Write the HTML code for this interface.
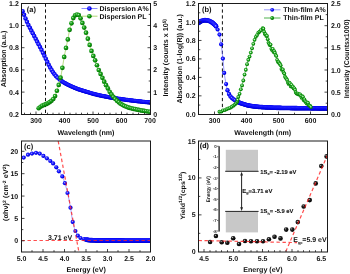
<!DOCTYPE html>
<html><head><meta charset="utf-8"><style>
html,body{margin:0;padding:0;background:#fff;}
svg{display:block;font-family:"Liberation Sans", sans-serif;will-change:transform;text-rendering:geometricPrecision;}
</style></head><body>
<svg width="350" height="274" viewBox="0 0 350 274">
<defs>
<radialGradient id="gb" cx="0.42" cy="0.4" r="0.62"><stop offset="0" stop-color="#b8b8ff"/><stop offset="0.3" stop-color="#3030ff"/><stop offset="0.65" stop-color="#0000f8"/><stop offset="1" stop-color="#0000c0"/></radialGradient>
<radialGradient id="gg2" cx="0.45" cy="0.42" r="0.6"><stop offset="0" stop-color="#e8fce8"/><stop offset="0.28" stop-color="#70c870"/><stop offset="0.56" stop-color="#0c9c0c"/><stop offset="1" stop-color="#006c00"/></radialGradient>
<radialGradient id="gg" cx="0.4" cy="0.38" r="0.62"><stop offset="0" stop-color="#d0f8d0"/><stop offset="0.3" stop-color="#30a830"/><stop offset="0.6" stop-color="#0c980c"/><stop offset="1" stop-color="#006800"/></radialGradient>
<radialGradient id="gk" cx="0.38" cy="0.35" r="0.65"><stop offset="0" stop-color="#d0d0d0"/><stop offset="0.3" stop-color="#202020"/><stop offset="1" stop-color="#000"/></radialGradient>
<clipPath id="ca"><rect x="21" y="3" width="130" height="112"/></clipPath>
<clipPath id="cb"><rect x="198" y="3" width="130" height="112"/></clipPath>
<clipPath id="cc"><rect x="21" y="141" width="130" height="111"/></clipPath>
<clipPath id="cd"><rect x="198" y="141" width="130" height="111"/></clipPath>
</defs>
<rect width="350" height="274" fill="#fff"/>
<line x1="45.5" y1="3.5" x2="45.5" y2="114" stroke="#111" stroke-width="1" stroke-dasharray="3.3 2.6"/>
<g clip-path="url(#ca)">
<circle cx="22.60" cy="11.27" r="2.25" fill="url(#gb)"/><circle cx="24.05" cy="14.86" r="2.25" fill="url(#gb)"/><circle cx="25.50" cy="18.46" r="2.25" fill="url(#gb)"/><circle cx="26.95" cy="21.83" r="2.25" fill="url(#gb)"/><circle cx="28.40" cy="24.88" r="2.25" fill="url(#gb)"/><circle cx="29.85" cy="27.75" r="2.25" fill="url(#gb)"/><circle cx="31.30" cy="30.59" r="2.25" fill="url(#gb)"/><circle cx="32.75" cy="33.37" r="2.25" fill="url(#gb)"/><circle cx="34.20" cy="36.11" r="2.25" fill="url(#gb)"/><circle cx="35.65" cy="38.84" r="2.25" fill="url(#gb)"/><circle cx="37.10" cy="41.57" r="2.25" fill="url(#gb)"/><circle cx="38.55" cy="44.27" r="2.25" fill="url(#gb)"/><circle cx="40.00" cy="47.00" r="2.25" fill="url(#gb)"/><circle cx="41.45" cy="49.79" r="2.25" fill="url(#gb)"/><circle cx="42.90" cy="52.69" r="2.25" fill="url(#gb)"/><circle cx="44.35" cy="55.65" r="2.25" fill="url(#gb)"/><circle cx="45.80" cy="58.63" r="2.25" fill="url(#gb)"/><circle cx="47.25" cy="61.74" r="2.25" fill="url(#gb)"/><circle cx="48.70" cy="64.78" r="2.25" fill="url(#gb)"/><circle cx="50.15" cy="67.48" r="2.25" fill="url(#gb)"/><circle cx="51.60" cy="70.00" r="2.25" fill="url(#gb)"/><circle cx="53.05" cy="72.32" r="2.25" fill="url(#gb)"/><circle cx="54.50" cy="74.37" r="2.25" fill="url(#gb)"/><circle cx="55.95" cy="76.09" r="2.25" fill="url(#gb)"/><circle cx="57.40" cy="77.57" r="2.25" fill="url(#gb)"/>
<circle cx="59.50" cy="79.42" r="2.15" fill="url(#gb)"/><circle cx="60.30" cy="80.06" r="2.15" fill="url(#gb)"/><circle cx="61.10" cy="80.67" r="2.15" fill="url(#gb)"/><circle cx="61.90" cy="81.25" r="2.15" fill="url(#gb)"/><circle cx="62.70" cy="81.79" r="2.15" fill="url(#gb)"/><circle cx="63.50" cy="82.30" r="2.15" fill="url(#gb)"/><circle cx="64.30" cy="82.78" r="2.15" fill="url(#gb)"/><circle cx="65.10" cy="83.25" r="2.15" fill="url(#gb)"/><circle cx="65.90" cy="83.69" r="2.15" fill="url(#gb)"/><circle cx="66.70" cy="84.12" r="2.15" fill="url(#gb)"/><circle cx="67.50" cy="84.54" r="2.15" fill="url(#gb)"/><circle cx="68.30" cy="84.94" r="2.15" fill="url(#gb)"/><circle cx="69.10" cy="85.33" r="2.15" fill="url(#gb)"/><circle cx="69.90" cy="85.71" r="2.15" fill="url(#gb)"/><circle cx="70.70" cy="86.08" r="2.15" fill="url(#gb)"/><circle cx="71.50" cy="86.45" r="2.15" fill="url(#gb)"/><circle cx="72.30" cy="86.80" r="2.15" fill="url(#gb)"/><circle cx="73.10" cy="87.15" r="2.15" fill="url(#gb)"/><circle cx="73.90" cy="87.50" r="2.15" fill="url(#gb)"/><circle cx="74.70" cy="87.83" r="2.15" fill="url(#gb)"/><circle cx="75.50" cy="88.16" r="2.15" fill="url(#gb)"/><circle cx="76.30" cy="88.48" r="2.15" fill="url(#gb)"/><circle cx="77.10" cy="88.79" r="2.15" fill="url(#gb)"/><circle cx="77.90" cy="89.09" r="2.15" fill="url(#gb)"/><circle cx="78.70" cy="89.38" r="2.15" fill="url(#gb)"/><circle cx="79.50" cy="89.67" r="2.15" fill="url(#gb)"/><circle cx="80.30" cy="89.94" r="2.15" fill="url(#gb)"/><circle cx="81.10" cy="90.20" r="2.15" fill="url(#gb)"/><circle cx="81.90" cy="90.45" r="2.15" fill="url(#gb)"/><circle cx="82.70" cy="90.70" r="2.15" fill="url(#gb)"/><circle cx="83.50" cy="90.94" r="2.15" fill="url(#gb)"/><circle cx="84.30" cy="91.18" r="2.15" fill="url(#gb)"/><circle cx="85.10" cy="91.41" r="2.15" fill="url(#gb)"/><circle cx="85.90" cy="91.64" r="2.15" fill="url(#gb)"/><circle cx="86.70" cy="91.88" r="2.15" fill="url(#gb)"/><circle cx="87.50" cy="92.11" r="2.15" fill="url(#gb)"/><circle cx="88.30" cy="92.35" r="2.15" fill="url(#gb)"/><circle cx="89.10" cy="92.59" r="2.15" fill="url(#gb)"/><circle cx="89.90" cy="92.84" r="2.15" fill="url(#gb)"/><circle cx="90.70" cy="93.08" r="2.15" fill="url(#gb)"/><circle cx="91.50" cy="93.33" r="2.15" fill="url(#gb)"/><circle cx="92.30" cy="93.56" r="2.15" fill="url(#gb)"/><circle cx="93.10" cy="93.79" r="2.15" fill="url(#gb)"/><circle cx="93.90" cy="94.02" r="2.15" fill="url(#gb)"/><circle cx="94.70" cy="94.22" r="2.15" fill="url(#gb)"/><circle cx="95.50" cy="94.42" r="2.15" fill="url(#gb)"/><circle cx="96.30" cy="94.62" r="2.15" fill="url(#gb)"/><circle cx="97.10" cy="94.81" r="2.15" fill="url(#gb)"/><circle cx="97.90" cy="94.99" r="2.15" fill="url(#gb)"/><circle cx="98.70" cy="95.17" r="2.15" fill="url(#gb)"/><circle cx="99.50" cy="95.35" r="2.15" fill="url(#gb)"/><circle cx="100.30" cy="95.53" r="2.15" fill="url(#gb)"/><circle cx="101.10" cy="95.70" r="2.15" fill="url(#gb)"/><circle cx="101.90" cy="95.87" r="2.15" fill="url(#gb)"/><circle cx="102.70" cy="96.03" r="2.15" fill="url(#gb)"/><circle cx="103.50" cy="96.19" r="2.15" fill="url(#gb)"/><circle cx="104.30" cy="96.35" r="2.15" fill="url(#gb)"/><circle cx="105.10" cy="96.51" r="2.15" fill="url(#gb)"/><circle cx="105.90" cy="96.66" r="2.15" fill="url(#gb)"/><circle cx="106.70" cy="96.81" r="2.15" fill="url(#gb)"/><circle cx="107.50" cy="96.96" r="2.15" fill="url(#gb)"/><circle cx="108.30" cy="97.10" r="2.15" fill="url(#gb)"/><circle cx="109.10" cy="97.24" r="2.15" fill="url(#gb)"/><circle cx="109.90" cy="97.38" r="2.15" fill="url(#gb)"/><circle cx="110.70" cy="97.52" r="2.15" fill="url(#gb)"/><circle cx="111.50" cy="97.65" r="2.15" fill="url(#gb)"/><circle cx="112.30" cy="97.79" r="2.15" fill="url(#gb)"/><circle cx="113.10" cy="97.92" r="2.15" fill="url(#gb)"/><circle cx="113.90" cy="98.05" r="2.15" fill="url(#gb)"/><circle cx="114.70" cy="98.17" r="2.15" fill="url(#gb)"/><circle cx="115.50" cy="98.30" r="2.15" fill="url(#gb)"/><circle cx="116.30" cy="98.42" r="2.15" fill="url(#gb)"/><circle cx="117.10" cy="98.54" r="2.15" fill="url(#gb)"/><circle cx="117.90" cy="98.66" r="2.15" fill="url(#gb)"/><circle cx="118.70" cy="98.78" r="2.15" fill="url(#gb)"/><circle cx="119.50" cy="98.90" r="2.15" fill="url(#gb)"/><circle cx="120.30" cy="99.01" r="2.15" fill="url(#gb)"/><circle cx="121.10" cy="99.12" r="2.15" fill="url(#gb)"/><circle cx="121.90" cy="99.24" r="2.15" fill="url(#gb)"/><circle cx="122.70" cy="99.35" r="2.15" fill="url(#gb)"/><circle cx="123.50" cy="99.46" r="2.15" fill="url(#gb)"/><circle cx="124.30" cy="99.56" r="2.15" fill="url(#gb)"/><circle cx="125.10" cy="99.67" r="2.15" fill="url(#gb)"/><circle cx="125.90" cy="99.78" r="2.15" fill="url(#gb)"/><circle cx="126.70" cy="99.88" r="2.15" fill="url(#gb)"/><circle cx="127.50" cy="99.98" r="2.15" fill="url(#gb)"/><circle cx="128.30" cy="100.09" r="2.15" fill="url(#gb)"/><circle cx="129.10" cy="100.19" r="2.15" fill="url(#gb)"/><circle cx="129.90" cy="100.29" r="2.15" fill="url(#gb)"/><circle cx="130.70" cy="100.39" r="2.15" fill="url(#gb)"/><circle cx="131.50" cy="100.49" r="2.15" fill="url(#gb)"/><circle cx="132.30" cy="100.58" r="2.15" fill="url(#gb)"/><circle cx="133.10" cy="100.68" r="2.15" fill="url(#gb)"/><circle cx="133.90" cy="100.78" r="2.15" fill="url(#gb)"/><circle cx="134.70" cy="100.87" r="2.15" fill="url(#gb)"/><circle cx="135.50" cy="100.97" r="2.15" fill="url(#gb)"/><circle cx="136.30" cy="101.06" r="2.15" fill="url(#gb)"/><circle cx="137.10" cy="101.15" r="2.15" fill="url(#gb)"/><circle cx="137.90" cy="101.25" r="2.15" fill="url(#gb)"/><circle cx="138.70" cy="101.34" r="2.15" fill="url(#gb)"/><circle cx="139.50" cy="101.43" r="2.15" fill="url(#gb)"/><circle cx="140.30" cy="101.52" r="2.15" fill="url(#gb)"/><circle cx="141.10" cy="101.60" r="2.15" fill="url(#gb)"/><circle cx="141.90" cy="101.69" r="2.15" fill="url(#gb)"/><circle cx="142.70" cy="101.78" r="2.15" fill="url(#gb)"/><circle cx="143.50" cy="101.86" r="2.15" fill="url(#gb)"/><circle cx="144.30" cy="101.95" r="2.15" fill="url(#gb)"/><circle cx="145.10" cy="102.03" r="2.15" fill="url(#gb)"/><circle cx="145.90" cy="102.11" r="2.15" fill="url(#gb)"/><circle cx="146.70" cy="102.19" r="2.15" fill="url(#gb)"/><circle cx="147.50" cy="102.27" r="2.15" fill="url(#gb)"/><circle cx="148.30" cy="102.35" r="2.15" fill="url(#gb)"/><circle cx="149.10" cy="102.42" r="2.15" fill="url(#gb)"/><circle cx="149.90" cy="102.50" r="2.15" fill="url(#gb)"/><circle cx="150.70" cy="102.57" r="2.15" fill="url(#gb)"/>
<path d="M38.50,108.40 L39.00,107.97 L39.50,107.56 L40.00,107.16 L40.50,106.79 L41.00,106.44 L41.50,106.11 L42.00,105.82 L42.50,105.55 L43.00,105.32 L43.50,105.11 L44.00,104.93 L44.50,104.75 L45.00,104.58 L45.50,104.40 L46.00,104.21 L46.50,103.99 L47.00,103.75 L47.50,103.49 L48.00,103.20 L48.50,102.90 L49.00,102.58 L49.50,102.24 L50.00,101.89 L50.50,101.53 L51.00,101.15 L51.50,100.75 L52.00,100.32 L52.50,99.84 L53.00,99.30 L53.50,98.68 L54.00,97.97 L54.50,97.14 L55.00,96.20 L55.50,95.06 L56.00,93.62 L56.50,92.03 L57.00,90.41 L57.50,88.86 L58.00,87.29 L58.50,85.67 L59.00,83.93 L59.50,82.06 L60.00,80.04 L60.50,77.86 L61.00,75.50 L61.50,72.86 L62.00,69.96 L62.50,66.98 L63.00,64.02 L63.50,60.97 L64.00,57.98 L64.50,55.24 L65.00,52.69 L65.50,50.27 L66.00,47.88 L66.50,45.53 L67.00,43.26 L67.50,40.95 L68.00,38.48 L68.50,35.66 L69.00,32.79 L69.50,30.37 L70.00,28.40 L70.50,26.63 L71.00,24.94 L71.50,23.20 L72.00,21.46 L72.50,19.92 L73.00,18.68 L73.50,17.58 L74.00,16.65 L74.50,15.99 L75.00,15.46 L75.50,15.04 L76.00,14.80 L76.50,14.68 L77.00,14.59 L77.50,14.52 L78.00,14.50 L78.50,14.75 L79.00,15.39 L79.50,16.26 L80.00,17.23 L80.50,18.22 L81.00,19.47 L81.50,20.80 L82.00,22.01 L82.50,23.17 L83.00,24.35 L83.50,25.63 L84.00,27.02 L84.50,28.47 L85.00,29.91 L85.50,31.31 L86.00,32.67 L86.50,34.07 L87.00,35.60 L87.50,37.38 L88.00,39.30 L88.50,41.09 L89.00,42.75 L89.50,44.38 L90.00,46.00 L90.50,47.68 L91.00,49.37 L91.50,50.99 L92.00,52.47 L92.50,53.84 L93.00,55.13 L93.50,56.39 L94.00,57.65 L94.50,58.85 L95.00,60.05 L95.50,61.30 L96.00,62.63 L96.50,64.01 L97.00,65.40 L97.50,66.73 L98.00,68.05 L98.50,69.34 L99.00,70.57 L99.50,71.69 L100.00,72.74 L100.50,73.76 L101.00,74.80 L101.50,75.88 L102.00,76.97 L102.50,78.06 L103.00,79.12 L103.50,80.16 L104.00,81.19 L104.50,82.20 L105.00,83.20 L105.50,84.18 L106.00,85.14 L106.50,86.06 L107.00,86.93 L107.50,87.78 L108.00,88.64 L108.50,89.56 L109.00,90.55 L109.50,91.53 L110.00,92.40 L110.50,93.15 L111.00,93.82 L111.50,94.47 L112.00,95.10 L112.50,95.74 L113.00,96.36 L113.50,96.96 L114.00,97.52 L114.50,98.08 L115.00,98.63 L115.50,99.16 L116.00,99.68 L116.50,100.19 L117.00,100.68 L117.50,101.15 L118.00,101.60 L118.50,102.04 L119.00,102.47 L119.50,102.88 L120.00,103.28 L120.50,103.65 L121.00,104.00 L121.50,104.33 L122.00,104.62 L122.50,104.91 L123.00,105.18 L123.50,105.43 L124.00,105.67 L124.50,105.91 L125.00,106.14 L125.50,106.36 L126.00,106.58 L126.50,106.79 L127.00,106.99 L127.50,107.19 L128.00,107.37 L128.50,107.54 L129.00,107.69 L129.50,107.84 L130.00,107.97 L130.50,108.10 L131.00,108.23 L131.50,108.35 L132.00,108.46 L132.50,108.58 L133.00,108.70 L133.50,108.82 L134.00,108.94 L134.50,109.05 L135.00,109.17 L135.50,109.28 L136.00,109.39 L136.50,109.50 L137.00,109.60 L137.50,109.70 L138.00,109.80 L138.50,109.90 L139.00,110.00 L139.50,110.10 L140.00,110.19 L140.50,110.29 L141.00,110.38 L141.50,110.47 L142.00,110.56 L142.50,110.65 L143.00,110.73 L143.50,110.82 L144.00,110.90 L144.50,110.98 L145.00,111.06 L145.50,111.14 L146.00,111.21 L146.50,111.29 L147.00,111.36 L147.50,111.44 L148.00,111.51 L148.50,111.58 L149.00,111.64 L149.50,111.71 L150.00,111.78 L150.50,111.84 L151.00,111.90" fill="none" stroke="#9acd50" stroke-width="0.7"/>
<circle cx="38.70" cy="108.23" r="2.35" fill="url(#gg)"/><circle cx="40.52" cy="106.77" r="2.35" fill="url(#gg)"/><circle cx="42.34" cy="105.63" r="2.35" fill="url(#gg)"/><circle cx="44.16" cy="104.87" r="2.35" fill="url(#gg)"/><circle cx="45.98" cy="104.22" r="2.35" fill="url(#gg)"/><circle cx="47.80" cy="103.32" r="2.35" fill="url(#gg)"/><circle cx="49.62" cy="102.16" r="2.35" fill="url(#gg)"/><circle cx="51.44" cy="100.80" r="2.35" fill="url(#gg)"/><circle cx="53.26" cy="98.99" r="2.35" fill="url(#gg)"/><circle cx="55.08" cy="96.04" r="2.35" fill="url(#gg)"/><circle cx="56.90" cy="90.73" r="2.35" fill="url(#gg)"/><circle cx="58.72" cy="84.92" r="2.35" fill="url(#gg)"/><circle cx="60.54" cy="77.67" r="2.35" fill="url(#gg)"/><circle cx="62.36" cy="67.81" r="2.35" fill="url(#gg)"/><circle cx="64.18" cy="56.96" r="2.35" fill="url(#gg)"/><circle cx="66.00" cy="47.88" r="2.35" fill="url(#gg)"/><circle cx="67.82" cy="39.40" r="2.35" fill="url(#gg)"/><circle cx="69.64" cy="29.79" r="2.35" fill="url(#gg)"/><circle cx="71.46" cy="23.34" r="2.35" fill="url(#gg)"/><circle cx="73.28" cy="18.05" r="2.35" fill="url(#gg)"/><circle cx="75.10" cy="15.36" r="2.35" fill="url(#gg)"/><circle cx="76.92" cy="14.60" r="2.35" fill="url(#gg)"/><circle cx="78.74" cy="15.01" r="2.35" fill="url(#gg)"/><circle cx="80.56" cy="18.36" r="2.35" fill="url(#gg)"/><circle cx="82.38" cy="22.89" r="2.35" fill="url(#gg)"/><circle cx="84.20" cy="27.59" r="2.35" fill="url(#gg)"/><circle cx="86.02" cy="32.72" r="2.35" fill="url(#gg)"/><circle cx="87.84" cy="38.69" r="2.35" fill="url(#gg)"/><circle cx="89.66" cy="44.89" r="2.35" fill="url(#gg)"/><circle cx="91.48" cy="50.93" r="2.35" fill="url(#gg)"/><circle cx="93.30" cy="55.89" r="2.35" fill="url(#gg)"/><circle cx="95.12" cy="60.35" r="2.35" fill="url(#gg)"/><circle cx="96.94" cy="65.23" r="2.35" fill="url(#gg)"/><circle cx="98.76" cy="69.99" r="2.35" fill="url(#gg)"/><circle cx="100.58" cy="73.92" r="2.35" fill="url(#gg)"/><circle cx="102.40" cy="77.84" r="2.35" fill="url(#gg)"/><circle cx="104.22" cy="81.64" r="2.35" fill="url(#gg)"/><circle cx="106.04" cy="85.22" r="2.35" fill="url(#gg)"/><circle cx="107.86" cy="88.40" r="2.35" fill="url(#gg)"/><circle cx="109.68" cy="91.86" r="2.35" fill="url(#gg)"/><circle cx="111.50" cy="94.47" r="2.35" fill="url(#gg)"/><circle cx="113.32" cy="96.74" r="2.35" fill="url(#gg)"/><circle cx="115.14" cy="98.78" r="2.35" fill="url(#gg)"/><circle cx="116.96" cy="100.64" r="2.35" fill="url(#gg)"/><circle cx="118.78" cy="102.28" r="2.35" fill="url(#gg)"/><circle cx="120.60" cy="103.73" r="2.35" fill="url(#gg)"/><circle cx="122.42" cy="104.86" r="2.35" fill="url(#gg)"/><circle cx="124.24" cy="105.79" r="2.35" fill="url(#gg)"/><circle cx="126.06" cy="106.60" r="2.35" fill="url(#gg)"/><circle cx="127.88" cy="107.32" r="2.35" fill="url(#gg)"/><circle cx="129.70" cy="107.89" r="2.35" fill="url(#gg)"/><circle cx="131.52" cy="108.35" r="2.35" fill="url(#gg)"/><circle cx="133.34" cy="108.78" r="2.35" fill="url(#gg)"/><circle cx="135.16" cy="109.20" r="2.35" fill="url(#gg)"/><circle cx="136.98" cy="109.60" r="2.35" fill="url(#gg)"/><circle cx="138.80" cy="109.96" r="2.35" fill="url(#gg)"/><circle cx="140.62" cy="110.31" r="2.35" fill="url(#gg)"/><circle cx="142.44" cy="110.64" r="2.35" fill="url(#gg)"/><circle cx="144.26" cy="110.94" r="2.35" fill="url(#gg)"/><circle cx="146.08" cy="111.23" r="2.35" fill="url(#gg)"/><circle cx="147.90" cy="111.49" r="2.35" fill="url(#gg)"/><circle cx="149.72" cy="111.74" r="2.35" fill="url(#gg)"/>
</g>
<rect x="21.5" y="3.5" width="129.0" height="111.0" fill="none" stroke="#1a1a1a" stroke-width="1"/>
<line x1="24.5" y1="114.5" x2="24.5" y2="112.7" stroke="#1a1a1a" stroke-width="0.8"/>
<line x1="30.5" y1="114.5" x2="30.5" y2="112.7" stroke="#1a1a1a" stroke-width="0.8"/>
<line x1="36.0" y1="114.5" x2="36.0" y2="111.5" stroke="#1a1a1a" stroke-width="0.8"/>
<line x1="41.5" y1="114.5" x2="41.5" y2="112.7" stroke="#1a1a1a" stroke-width="0.8"/>
<line x1="47.5" y1="114.5" x2="47.5" y2="112.7" stroke="#1a1a1a" stroke-width="0.8"/>
<line x1="53.0" y1="114.5" x2="53.0" y2="112.7" stroke="#1a1a1a" stroke-width="0.8"/>
<line x1="59.0" y1="114.5" x2="59.0" y2="112.7" stroke="#1a1a1a" stroke-width="0.8"/>
<line x1="64.5" y1="114.5" x2="64.5" y2="111.5" stroke="#1a1a1a" stroke-width="0.8"/>
<line x1="70.0" y1="114.5" x2="70.0" y2="112.7" stroke="#1a1a1a" stroke-width="0.8"/>
<line x1="76.0" y1="114.5" x2="76.0" y2="112.7" stroke="#1a1a1a" stroke-width="0.8"/>
<line x1="81.5" y1="114.5" x2="81.5" y2="112.7" stroke="#1a1a1a" stroke-width="0.8"/>
<line x1="87.5" y1="114.5" x2="87.5" y2="112.7" stroke="#1a1a1a" stroke-width="0.8"/>
<line x1="93.0" y1="114.5" x2="93.0" y2="111.5" stroke="#1a1a1a" stroke-width="0.8"/>
<line x1="98.5" y1="114.5" x2="98.5" y2="112.7" stroke="#1a1a1a" stroke-width="0.8"/>
<line x1="104.5" y1="114.5" x2="104.5" y2="112.7" stroke="#1a1a1a" stroke-width="0.8"/>
<line x1="110.0" y1="114.5" x2="110.0" y2="112.7" stroke="#1a1a1a" stroke-width="0.8"/>
<line x1="116.0" y1="114.5" x2="116.0" y2="112.7" stroke="#1a1a1a" stroke-width="0.8"/>
<line x1="121.5" y1="114.5" x2="121.5" y2="111.5" stroke="#1a1a1a" stroke-width="0.8"/>
<line x1="127.0" y1="114.5" x2="127.0" y2="112.7" stroke="#1a1a1a" stroke-width="0.8"/>
<line x1="133.0" y1="114.5" x2="133.0" y2="112.7" stroke="#1a1a1a" stroke-width="0.8"/>
<line x1="138.5" y1="114.5" x2="138.5" y2="112.7" stroke="#1a1a1a" stroke-width="0.8"/>
<line x1="144.5" y1="114.5" x2="144.5" y2="112.7" stroke="#1a1a1a" stroke-width="0.8"/>
<text x="36.0" y="123.1" font-size="7" text-anchor="middle" font-weight="bold" fill="#111" >300</text>
<text x="64.5" y="123.1" font-size="7" text-anchor="middle" font-weight="bold" fill="#111" >400</text>
<text x="93.0" y="123.1" font-size="7" text-anchor="middle" font-weight="bold" fill="#111" >500</text>
<text x="121.49999999999999" y="123.1" font-size="7" text-anchor="middle" font-weight="bold" fill="#111" >600</text>
<text x="150.0" y="123.1" font-size="7" text-anchor="middle" font-weight="bold" fill="#111" >700</text>
<line x1="21.5" y1="103.19999999999999" x2="23.3" y2="103.19999999999999" stroke="#1a1a1a" stroke-width="0.8"/>
<line x1="21.5" y1="92.1" x2="24.5" y2="92.1" stroke="#1a1a1a" stroke-width="0.8"/>
<line x1="21.5" y1="81.0" x2="23.3" y2="81.0" stroke="#1a1a1a" stroke-width="0.8"/>
<line x1="21.5" y1="69.89999999999999" x2="24.5" y2="69.89999999999999" stroke="#1a1a1a" stroke-width="0.8"/>
<line x1="21.5" y1="58.800000000000004" x2="23.3" y2="58.800000000000004" stroke="#1a1a1a" stroke-width="0.8"/>
<line x1="21.5" y1="47.69999999999999" x2="24.5" y2="47.69999999999999" stroke="#1a1a1a" stroke-width="0.8"/>
<line x1="21.5" y1="36.59999999999998" x2="23.3" y2="36.59999999999998" stroke="#1a1a1a" stroke-width="0.8"/>
<line x1="21.5" y1="25.499999999999986" x2="24.5" y2="25.499999999999986" stroke="#1a1a1a" stroke-width="0.8"/>
<line x1="21.5" y1="14.399999999999977" x2="23.3" y2="14.399999999999977" stroke="#1a1a1a" stroke-width="0.8"/>
<text x="18.8" y="116.85" font-size="7" text-anchor="end" font-weight="bold" fill="#111" >0.2</text>
<text x="18.8" y="94.64999999999999" font-size="7" text-anchor="end" font-weight="bold" fill="#111" >0.4</text>
<text x="18.8" y="72.45" font-size="7" text-anchor="end" font-weight="bold" fill="#111" >0.6</text>
<text x="18.8" y="50.249999999999986" font-size="7" text-anchor="end" font-weight="bold" fill="#111" >0.8</text>
<text x="18.8" y="28.049999999999986" font-size="7" text-anchor="end" font-weight="bold" fill="#111" >1.0</text>
<text x="18.8" y="5.849999999999997" font-size="7" text-anchor="end" font-weight="bold" fill="#111" >1.2</text>
<line x1="150.5" y1="103.2" x2="148.7" y2="103.2" stroke="#1a1a1a" stroke-width="0.8"/>
<line x1="150.5" y1="92.1" x2="147.5" y2="92.1" stroke="#1a1a1a" stroke-width="0.8"/>
<line x1="150.5" y1="81.0" x2="148.7" y2="81.0" stroke="#1a1a1a" stroke-width="0.8"/>
<line x1="150.5" y1="69.9" x2="147.5" y2="69.9" stroke="#1a1a1a" stroke-width="0.8"/>
<line x1="150.5" y1="58.8" x2="148.7" y2="58.8" stroke="#1a1a1a" stroke-width="0.8"/>
<line x1="150.5" y1="47.7" x2="147.5" y2="47.7" stroke="#1a1a1a" stroke-width="0.8"/>
<line x1="150.5" y1="36.599999999999994" x2="148.7" y2="36.599999999999994" stroke="#1a1a1a" stroke-width="0.8"/>
<line x1="150.5" y1="25.5" x2="147.5" y2="25.5" stroke="#1a1a1a" stroke-width="0.8"/>
<line x1="150.5" y1="14.400000000000006" x2="148.7" y2="14.400000000000006" stroke="#1a1a1a" stroke-width="0.8"/>
<text x="153.3" y="116.85" font-size="7" text-anchor="start" font-weight="bold" fill="#111" >0</text>
<text x="153.3" y="94.64999999999999" font-size="7" text-anchor="start" font-weight="bold" fill="#111" >1</text>
<text x="153.3" y="72.45" font-size="7" text-anchor="start" font-weight="bold" fill="#111" >2</text>
<text x="153.3" y="50.25" font-size="7" text-anchor="start" font-weight="bold" fill="#111" >3</text>
<text x="153.3" y="28.05" font-size="7" text-anchor="start" font-weight="bold" fill="#111" >4</text>
<text x="153.3" y="5.849999999999997" font-size="7" text-anchor="start" font-weight="bold" fill="#111" >5</text>
<text x="26.8" y="11.9" font-size="7.5" text-anchor="start" font-weight="bold" fill="#111" >(a)</text>
<line x1="81.5" y1="8.5" x2="97.5" y2="8.5" stroke="#6f6fff" stroke-width="0.8"/>
<circle cx="89.4" cy="8.5" r="2.3" fill="url(#gb)"/>
<line x1="81.5" y1="16.2" x2="97.5" y2="16.2" stroke="#9acd50" stroke-width="0.8"/>
<circle cx="89.4" cy="16.2" r="2.3" fill="url(#gg)"/>
<text x="99.5" y="10.7" font-size="7" text-anchor="start" font-weight="bold" fill="#111" >Dispersion A%</text>
<text x="99.5" y="18.5" font-size="7" text-anchor="start" font-weight="bold" fill="#111" >Dispersion PL</text>
<text x="86" y="134.9" font-size="7.1" text-anchor="middle" font-weight="bold" fill="#111" >Wavelength (nm)</text>
<text transform="translate(6.3,58.9) rotate(-90)" font-size="7.2" text-anchor="middle" font-weight="bold" fill="#111" textLength="56.5" lengthAdjust="spacingAndGlyphs">Absorption (a.u.)</text>
<text transform="translate(168.3,57.8) rotate(-90)" font-size="7.1" text-anchor="middle" font-weight="bold" fill="#111" textLength="77.5" lengthAdjust="spacingAndGlyphs">Intensity (counts x 10<tspan font-size="4.8" dy="-2.6">5)</tspan></text>
<line x1="222.4" y1="3.5" x2="222.4" y2="114" stroke="#111" stroke-width="1" stroke-dasharray="3.3 2.6"/>
<g clip-path="url(#cb)">
<path d="M198.50,23.30 L199.00,22.80 L199.50,22.33 L200.00,21.90 L200.50,21.55 L201.00,21.30 L201.50,21.11 L202.00,20.92 L202.50,20.75 L203.00,20.60 L203.50,20.48 L204.00,20.38 L204.50,20.32 L205.00,20.30 L205.50,20.31 L206.00,20.34 L206.50,20.39 L207.00,20.45 L207.50,20.52 L208.00,20.60 L208.50,20.71 L209.00,20.88 L209.50,21.08 L210.00,21.33 L210.50,21.59 L211.00,21.87 L211.50,22.16 L212.00,22.47 L212.50,22.83 L213.00,23.22 L213.50,23.65 L214.00,24.10 L214.50,24.59 L215.00,25.11 L215.50,25.68 L216.00,26.31 L216.50,27.00 L217.00,27.76 L217.50,28.67 L218.00,29.80 L218.50,31.26 L219.00,33.08 L219.50,35.18 L220.00,37.67 L220.50,40.53 L221.00,43.65 L221.50,47.04 L222.00,50.83 L222.50,55.00 L223.00,59.58 L223.50,65.38 L224.00,71.11 L224.50,75.11 L225.00,78.30 L225.50,81.06 L226.00,83.60 L226.50,86.09 L227.00,88.41 L227.50,90.30 L228.00,91.76 L228.50,92.98 L229.00,94.00 L229.50,94.89 L230.00,95.70 L230.50,96.43 L231.00,97.06 L231.50,97.60 L232.00,98.06 L232.50,98.46 L233.00,98.83 L233.50,99.18 L234.00,99.53 L234.50,99.89 L235.00,100.26 L235.50,100.62 L236.00,100.96 L236.50,101.28 L237.00,101.55 L237.50,101.81 L238.00,102.05 L238.50,102.29 L239.00,102.51 L239.50,102.72 L240.00,102.93 L240.50,103.13 L241.00,103.32 L241.50,103.50 L242.00,103.67 L242.50,103.84 L243.00,104.00 L243.50,104.16 L244.00,104.31 L244.50,104.46 L245.00,104.61 L245.50,104.76 L246.00,104.90 L246.50,105.03 L247.00,105.16 L247.50,105.28 L248.00,105.40 L248.50,105.51 L249.00,105.62 L249.50,105.71 L250.00,105.80 L250.50,105.88 L251.00,105.96 L251.50,106.04 L252.00,106.12 L252.50,106.19 L253.00,106.26 L253.50,106.33 L254.00,106.40 L254.50,106.46 L255.00,106.52 L255.50,106.58 L256.00,106.64 L256.50,106.69 L257.00,106.74 L257.50,106.79 L258.00,106.84 L258.50,106.88 L259.00,106.93 L259.50,106.96 L260.00,107.00 L260.50,107.03 L261.00,107.07 L261.50,107.10 L262.00,107.13 L262.50,107.17 L263.00,107.20 L263.50,107.23 L264.00,107.26 L264.50,107.29 L265.00,107.32 L265.50,107.35 L266.00,107.37 L266.50,107.40 L267.00,107.43 L267.50,107.45 L268.00,107.48 L268.50,107.50 L269.00,107.53 L269.50,107.55 L270.00,107.58 L270.50,107.60 L271.00,107.62 L271.50,107.64 L272.00,107.66 L272.50,107.68 L273.00,107.70 L273.50,107.72 L274.00,107.74 L274.50,107.76 L275.00,107.77 L275.50,107.79 L276.00,107.80 L276.50,107.82 L277.00,107.83 L277.50,107.84 L278.00,107.86 L278.50,107.87 L279.00,107.88 L279.50,107.89 L280.00,107.90 L280.50,107.91 L281.00,107.92 L281.50,107.93 L282.00,107.94 L282.50,107.95 L283.00,107.95 L283.50,107.96 L284.00,107.97 L284.50,107.98 L285.00,107.99 L285.50,108.00 L286.00,108.01 L286.50,108.01 L287.00,108.02 L287.50,108.03 L288.00,108.04 L288.50,108.05 L289.00,108.06 L289.50,108.06 L290.00,108.07 L290.50,108.08 L291.00,108.09 L291.50,108.10 L292.00,108.10 L292.50,108.11 L293.00,108.12 L293.50,108.13 L294.00,108.13 L294.50,108.14 L295.00,108.15 L295.50,108.15 L296.00,108.16 L296.50,108.17 L297.00,108.17 L297.50,108.18 L298.00,108.19 L298.50,108.19 L299.00,108.20 L299.50,108.21 L300.00,108.21 L300.50,108.22 L301.00,108.23 L301.50,108.23 L302.00,108.24 L302.50,108.24 L303.00,108.25 L303.50,108.26 L304.00,108.26 L304.50,108.27 L305.00,108.27 L305.50,108.28 L306.00,108.28 L306.50,108.29 L307.00,108.29 L307.50,108.30 L308.00,108.30 L308.50,108.31 L309.00,108.31 L309.50,108.32 L310.00,108.32 L310.50,108.32 L311.00,108.33 L311.50,108.33 L312.00,108.34 L312.50,108.34 L313.00,108.34 L313.50,108.35 L314.00,108.35 L314.50,108.35 L315.00,108.36 L315.50,108.36 L316.00,108.36 L316.50,108.37 L317.00,108.37 L317.50,108.37 L318.00,108.37 L318.50,108.38 L319.00,108.38 L319.50,108.38 L320.00,108.38 L320.50,108.39 L321.00,108.39 L321.50,108.39 L322.00,108.39 L322.50,108.39 L323.00,108.39 L323.50,108.39 L324.00,108.40 L324.50,108.40 L325.00,108.40 L325.50,108.40 L326.00,108.40 L326.50,108.40 L327.00,108.40 L327.50,108.40 L328.00,108.40" fill="none" stroke="#6f6fff" stroke-width="0.7"/>
<circle cx="199.00" cy="22.80" r="2.45" fill="url(#gb)"/><circle cx="200.00" cy="21.90" r="2.45" fill="url(#gb)"/><circle cx="201.00" cy="21.30" r="2.45" fill="url(#gb)"/><circle cx="202.00" cy="20.92" r="2.45" fill="url(#gb)"/><circle cx="203.00" cy="20.60" r="2.45" fill="url(#gb)"/><circle cx="204.00" cy="20.38" r="2.45" fill="url(#gb)"/><circle cx="205.00" cy="20.30" r="2.45" fill="url(#gb)"/><circle cx="206.00" cy="20.34" r="2.45" fill="url(#gb)"/><circle cx="207.00" cy="20.45" r="2.45" fill="url(#gb)"/><circle cx="208.00" cy="20.60" r="2.45" fill="url(#gb)"/><circle cx="209.00" cy="20.88" r="2.45" fill="url(#gb)"/><circle cx="210.00" cy="21.33" r="2.45" fill="url(#gb)"/><circle cx="211.00" cy="21.87" r="2.45" fill="url(#gb)"/><circle cx="212.00" cy="22.47" r="2.45" fill="url(#gb)"/><circle cx="213.00" cy="23.22" r="2.45" fill="url(#gb)"/><circle cx="214.00" cy="24.10" r="2.45" fill="url(#gb)"/><circle cx="215.00" cy="25.11" r="2.45" fill="url(#gb)"/><circle cx="216.00" cy="26.31" r="2.45" fill="url(#gb)"/>
<circle cx="217.6" cy="29.5" r="2.1" fill="url(#gb)"/>
<circle cx="219.5" cy="34.6" r="2.1" fill="url(#gb)"/>
<circle cx="221.1" cy="44.3" r="2.1" fill="url(#gb)"/>
<circle cx="222.9" cy="58.6" r="2.1" fill="url(#gb)"/>
<circle cx="224.2" cy="72.9" r="2.1" fill="url(#gb)"/>
<circle cx="226.1" cy="84.1" r="2.1" fill="url(#gb)"/>
<circle cx="227.50" cy="90.30" r="2.2" fill="url(#gb)"/><circle cx="229.00" cy="94.00" r="2.2" fill="url(#gb)"/><circle cx="230.50" cy="96.43" r="2.2" fill="url(#gb)"/><circle cx="232.00" cy="98.06" r="2.2" fill="url(#gb)"/><circle cx="233.50" cy="99.18" r="2.2" fill="url(#gb)"/><circle cx="235.00" cy="100.26" r="2.2" fill="url(#gb)"/>
<circle cx="236.80" cy="101.45" r="2.3" fill="url(#gb)"/><circle cx="237.60" cy="101.86" r="2.3" fill="url(#gb)"/><circle cx="238.40" cy="102.24" r="2.3" fill="url(#gb)"/><circle cx="239.20" cy="102.60" r="2.3" fill="url(#gb)"/><circle cx="240.00" cy="102.93" r="2.3" fill="url(#gb)"/><circle cx="240.80" cy="103.24" r="2.3" fill="url(#gb)"/><circle cx="241.60" cy="103.53" r="2.3" fill="url(#gb)"/><circle cx="242.40" cy="103.81" r="2.3" fill="url(#gb)"/><circle cx="243.20" cy="104.06" r="2.3" fill="url(#gb)"/><circle cx="244.00" cy="104.31" r="2.3" fill="url(#gb)"/><circle cx="244.80" cy="104.55" r="2.3" fill="url(#gb)"/><circle cx="245.60" cy="104.79" r="2.3" fill="url(#gb)"/><circle cx="246.40" cy="105.01" r="2.3" fill="url(#gb)"/><circle cx="247.20" cy="105.21" r="2.3" fill="url(#gb)"/><circle cx="248.00" cy="105.40" r="2.3" fill="url(#gb)"/><circle cx="248.80" cy="105.58" r="2.3" fill="url(#gb)"/><circle cx="249.60" cy="105.73" r="2.3" fill="url(#gb)"/><circle cx="250.40" cy="105.87" r="2.3" fill="url(#gb)"/><circle cx="251.20" cy="105.99" r="2.3" fill="url(#gb)"/><circle cx="252.00" cy="106.12" r="2.3" fill="url(#gb)"/><circle cx="252.80" cy="106.23" r="2.3" fill="url(#gb)"/><circle cx="253.60" cy="106.34" r="2.3" fill="url(#gb)"/><circle cx="254.40" cy="106.45" r="2.3" fill="url(#gb)"/><circle cx="255.20" cy="106.55" r="2.3" fill="url(#gb)"/><circle cx="256.00" cy="106.64" r="2.3" fill="url(#gb)"/><circle cx="256.80" cy="106.72" r="2.3" fill="url(#gb)"/><circle cx="257.60" cy="106.80" r="2.3" fill="url(#gb)"/><circle cx="258.40" cy="106.88" r="2.3" fill="url(#gb)"/><circle cx="259.20" cy="106.94" r="2.3" fill="url(#gb)"/><circle cx="260.00" cy="107.00" r="2.3" fill="url(#gb)"/><circle cx="260.80" cy="107.05" r="2.3" fill="url(#gb)"/><circle cx="261.60" cy="107.11" r="2.3" fill="url(#gb)"/><circle cx="262.40" cy="107.16" r="2.3" fill="url(#gb)"/><circle cx="263.20" cy="107.21" r="2.3" fill="url(#gb)"/><circle cx="264.00" cy="107.26" r="2.3" fill="url(#gb)"/><circle cx="264.80" cy="107.31" r="2.3" fill="url(#gb)"/><circle cx="265.60" cy="107.35" r="2.3" fill="url(#gb)"/><circle cx="266.40" cy="107.40" r="2.3" fill="url(#gb)"/><circle cx="267.20" cy="107.44" r="2.3" fill="url(#gb)"/><circle cx="268.00" cy="107.48" r="2.3" fill="url(#gb)"/><circle cx="268.80" cy="107.52" r="2.3" fill="url(#gb)"/><circle cx="269.60" cy="107.56" r="2.3" fill="url(#gb)"/><circle cx="270.40" cy="107.59" r="2.3" fill="url(#gb)"/><circle cx="271.20" cy="107.63" r="2.3" fill="url(#gb)"/><circle cx="272.00" cy="107.66" r="2.3" fill="url(#gb)"/><circle cx="272.80" cy="107.69" r="2.3" fill="url(#gb)"/><circle cx="273.60" cy="107.72" r="2.3" fill="url(#gb)"/><circle cx="274.40" cy="107.75" r="2.3" fill="url(#gb)"/><circle cx="275.20" cy="107.78" r="2.3" fill="url(#gb)"/><circle cx="276.00" cy="107.80" r="2.3" fill="url(#gb)"/><circle cx="276.80" cy="107.83" r="2.3" fill="url(#gb)"/><circle cx="277.60" cy="107.85" r="2.3" fill="url(#gb)"/><circle cx="278.40" cy="107.87" r="2.3" fill="url(#gb)"/><circle cx="279.20" cy="107.88" r="2.3" fill="url(#gb)"/><circle cx="280.00" cy="107.90" r="2.3" fill="url(#gb)"/><circle cx="280.80" cy="107.91" r="2.3" fill="url(#gb)"/><circle cx="281.60" cy="107.93" r="2.3" fill="url(#gb)"/><circle cx="282.40" cy="107.94" r="2.3" fill="url(#gb)"/><circle cx="283.20" cy="107.96" r="2.3" fill="url(#gb)"/><circle cx="284.00" cy="107.97" r="2.3" fill="url(#gb)"/><circle cx="284.80" cy="107.99" r="2.3" fill="url(#gb)"/><circle cx="285.60" cy="108.00" r="2.3" fill="url(#gb)"/><circle cx="286.40" cy="108.01" r="2.3" fill="url(#gb)"/><circle cx="287.20" cy="108.03" r="2.3" fill="url(#gb)"/><circle cx="288.00" cy="108.04" r="2.3" fill="url(#gb)"/><circle cx="288.80" cy="108.05" r="2.3" fill="url(#gb)"/><circle cx="289.60" cy="108.07" r="2.3" fill="url(#gb)"/><circle cx="290.40" cy="108.08" r="2.3" fill="url(#gb)"/><circle cx="291.20" cy="108.09" r="2.3" fill="url(#gb)"/><circle cx="292.00" cy="108.10" r="2.3" fill="url(#gb)"/><circle cx="292.80" cy="108.12" r="2.3" fill="url(#gb)"/><circle cx="293.60" cy="108.13" r="2.3" fill="url(#gb)"/><circle cx="294.40" cy="108.14" r="2.3" fill="url(#gb)"/><circle cx="295.20" cy="108.15" r="2.3" fill="url(#gb)"/><circle cx="296.00" cy="108.16" r="2.3" fill="url(#gb)"/><circle cx="296.80" cy="108.17" r="2.3" fill="url(#gb)"/><circle cx="297.60" cy="108.18" r="2.3" fill="url(#gb)"/><circle cx="298.40" cy="108.19" r="2.3" fill="url(#gb)"/><circle cx="299.20" cy="108.20" r="2.3" fill="url(#gb)"/><circle cx="300.00" cy="108.21" r="2.3" fill="url(#gb)"/><circle cx="300.80" cy="108.22" r="2.3" fill="url(#gb)"/><circle cx="301.60" cy="108.23" r="2.3" fill="url(#gb)"/><circle cx="302.40" cy="108.24" r="2.3" fill="url(#gb)"/><circle cx="303.20" cy="108.25" r="2.3" fill="url(#gb)"/><circle cx="304.00" cy="108.26" r="2.3" fill="url(#gb)"/><circle cx="304.80" cy="108.27" r="2.3" fill="url(#gb)"/><circle cx="305.60" cy="108.28" r="2.3" fill="url(#gb)"/><circle cx="306.40" cy="108.29" r="2.3" fill="url(#gb)"/><circle cx="307.20" cy="108.29" r="2.3" fill="url(#gb)"/><circle cx="308.00" cy="108.30" r="2.3" fill="url(#gb)"/><circle cx="308.80" cy="108.31" r="2.3" fill="url(#gb)"/><circle cx="309.60" cy="108.32" r="2.3" fill="url(#gb)"/><circle cx="310.40" cy="108.32" r="2.3" fill="url(#gb)"/><circle cx="311.20" cy="108.33" r="2.3" fill="url(#gb)"/><circle cx="312.00" cy="108.34" r="2.3" fill="url(#gb)"/><circle cx="312.80" cy="108.34" r="2.3" fill="url(#gb)"/><circle cx="313.60" cy="108.35" r="2.3" fill="url(#gb)"/><circle cx="314.40" cy="108.35" r="2.3" fill="url(#gb)"/><circle cx="315.20" cy="108.36" r="2.3" fill="url(#gb)"/><circle cx="316.00" cy="108.36" r="2.3" fill="url(#gb)"/><circle cx="316.80" cy="108.37" r="2.3" fill="url(#gb)"/><circle cx="317.60" cy="108.37" r="2.3" fill="url(#gb)"/><circle cx="318.40" cy="108.38" r="2.3" fill="url(#gb)"/><circle cx="319.20" cy="108.38" r="2.3" fill="url(#gb)"/><circle cx="320.00" cy="108.38" r="2.3" fill="url(#gb)"/><circle cx="320.80" cy="108.39" r="2.3" fill="url(#gb)"/><circle cx="321.60" cy="108.39" r="2.3" fill="url(#gb)"/><circle cx="322.40" cy="108.39" r="2.3" fill="url(#gb)"/><circle cx="323.20" cy="108.39" r="2.3" fill="url(#gb)"/><circle cx="324.00" cy="108.40" r="2.3" fill="url(#gb)"/><circle cx="324.80" cy="108.40" r="2.3" fill="url(#gb)"/><circle cx="325.60" cy="108.40" r="2.3" fill="url(#gb)"/><circle cx="326.40" cy="108.40" r="2.3" fill="url(#gb)"/><circle cx="327.20" cy="108.40" r="2.3" fill="url(#gb)"/><circle cx="328.00" cy="108.40" r="2.3" fill="url(#gb)"/>
<path d="M219.50,111.92 L220.00,111.77 L220.50,111.60 L221.00,111.41 L221.50,111.20 L222.00,110.98 L222.50,110.76 L223.00,110.54 L223.50,110.32 L224.00,110.12 L224.50,109.92 L225.00,109.73 L225.50,109.54 L226.00,109.35 L226.50,109.16 L227.00,108.96 L227.50,108.76 L228.00,108.54 L228.50,108.32 L229.00,108.10 L229.50,107.87 L230.00,107.64 L230.50,107.39 L231.00,107.14 L231.50,106.87 L232.00,106.60 L232.50,106.30 L233.00,106.01 L233.50,105.72 L234.00,105.43 L234.50,105.10 L235.00,104.73 L235.50,104.29 L236.00,103.76 L236.50,103.09 L237.00,101.90 L237.50,100.30 L238.00,98.53 L238.50,96.82 L239.00,95.26 L239.50,93.68 L240.00,92.08 L240.50,90.43 L241.00,88.76 L241.50,87.07 L242.00,85.30 L242.50,83.41 L243.00,81.28 L243.50,79.01 L244.00,76.77 L244.50,74.69 L245.00,72.75 L245.50,70.87 L246.00,68.98 L246.50,66.99 L247.00,64.89 L247.50,62.84 L248.00,61.00 L248.50,59.45 L249.00,58.07 L249.50,56.69 L250.00,55.18 L250.50,53.47 L251.00,51.67 L251.50,49.87 L252.00,48.17 L252.50,46.54 L253.00,44.93 L253.50,43.37 L254.00,41.87 L254.50,40.47 L255.00,39.13 L255.50,37.82 L256.00,36.60 L256.50,35.53 L257.00,34.69 L257.50,34.00 L258.00,33.40 L258.50,32.85 L259.00,32.31 L259.50,31.75 L260.00,31.07 L260.50,30.22 L261.00,29.38 L261.50,28.78 L262.00,28.61 L262.50,28.95 L263.00,29.66 L263.50,30.58 L264.00,31.57 L264.50,32.47 L265.00,33.37 L265.50,34.32 L266.00,35.33 L266.50,36.37 L267.00,37.46 L267.50,38.62 L268.00,39.81 L268.50,41.00 L269.00,42.19 L269.50,43.40 L270.00,44.59 L270.50,45.70 L271.00,46.73 L271.50,47.70 L272.00,48.64 L272.50,49.57 L273.00,50.51 L273.50,51.49 L274.00,52.45 L274.50,53.42 L275.00,54.40 L275.50,55.40 L276.00,56.43 L276.50,57.50 L277.00,58.66 L277.50,59.89 L278.00,61.11 L278.50,62.24 L279.00,63.32 L279.50,64.36 L280.00,65.38 L280.50,66.38 L281.00,67.37 L281.50,68.35 L282.00,69.32 L282.50,70.31 L283.00,71.30 L283.50,72.31 L284.00,73.35 L284.50,74.39 L285.00,75.43 L285.50,76.46 L286.00,77.47 L286.50,78.46 L287.00,79.40 L287.50,80.29 L288.00,81.13 L288.50,81.94 L289.00,82.72 L289.50,83.49 L290.00,84.23 L290.50,84.95 L291.00,85.66 L291.50,86.34 L292.00,87.00 L292.50,87.64 L293.00,88.26 L293.50,88.86 L294.00,89.45 L294.50,90.00 L295.00,90.53 L295.50,91.04 L296.00,91.54 L296.50,92.02 L297.00,92.50 L297.50,92.97 L298.00,93.45 L298.50,93.92 L299.00,94.41 L299.50,94.90 L300.00,95.41 L300.50,95.92 L301.00,96.43 L301.50,96.95 L302.00,97.47 L302.50,97.99 L303.00,98.50 L303.50,99.02 L304.00,99.52 L304.50,100.02 L305.00,100.52 L305.50,101.00 L306.00,101.48 L306.50,101.95 L307.00,102.41 L307.50,102.88 L308.00,103.33 L308.50,103.79 L309.00,104.23 L309.50,104.68 L310.00,105.12 L310.50,105.55 L311.00,105.98 L311.50,106.40" fill="none" stroke="#22a022" stroke-width="0.6"/>
<circle cx="219.44" cy="111.73" r="1.9" fill="url(#gg2)"/><circle cx="221.39" cy="111.53" r="1.9" fill="url(#gg2)"/><circle cx="222.95" cy="110.34" r="1.9" fill="url(#gg2)"/><circle cx="224.90" cy="110.08" r="1.9" fill="url(#gg2)"/><circle cx="226.56" cy="109.13" r="1.9" fill="url(#gg2)"/><circle cx="228.35" cy="108.47" r="1.9" fill="url(#gg2)"/><circle cx="230.13" cy="107.78" r="1.9" fill="url(#gg2)"/><circle cx="231.74" cy="106.75" r="1.9" fill="url(#gg2)"/><circle cx="233.31" cy="105.67" r="1.9" fill="url(#gg2)"/><circle cx="234.83" cy="104.58" r="1.9" fill="url(#gg2)"/><circle cx="236.06" cy="103.24" r="1.9" fill="url(#gg2)"/><circle cx="237.23" cy="101.73" r="1.9" fill="url(#gg2)"/><circle cx="237.59" cy="99.85" r="1.9" fill="url(#gg2)"/>
<circle cx="238.30" cy="96.97" r="1.9" fill="url(#gg2)"/><circle cx="239.55" cy="93.86" r="1.9" fill="url(#gg2)"/><circle cx="240.80" cy="89.36" r="1.9" fill="url(#gg2)"/><circle cx="242.05" cy="85.39" r="1.9" fill="url(#gg2)"/><circle cx="243.30" cy="80.50" r="1.9" fill="url(#gg2)"/><circle cx="244.55" cy="74.54" r="1.9" fill="url(#gg2)"/><circle cx="245.80" cy="69.74" r="1.9" fill="url(#gg2)"/><circle cx="247.05" cy="64.17" r="1.9" fill="url(#gg2)"/><circle cx="248.30" cy="59.76" r="1.9" fill="url(#gg2)"/><circle cx="249.55" cy="56.55" r="1.9" fill="url(#gg2)"/><circle cx="250.80" cy="52.61" r="1.9" fill="url(#gg2)"/><circle cx="252.05" cy="48.37" r="1.9" fill="url(#gg2)"/><circle cx="253.30" cy="43.84" r="1.9" fill="url(#gg2)"/><circle cx="254.55" cy="39.81" r="1.9" fill="url(#gg2)"/><circle cx="255.80" cy="36.82" r="1.9" fill="url(#gg2)"/><circle cx="257.05" cy="35.10" r="1.9" fill="url(#gg2)"/><circle cx="258.30" cy="32.72" r="1.9" fill="url(#gg2)"/><circle cx="259.55" cy="31.63" r="1.9" fill="url(#gg2)"/><circle cx="260.80" cy="30.22" r="1.9" fill="url(#gg2)"/>
<circle cx="262.70" cy="28.05" r="1.85" fill="url(#gg2)"/><circle cx="263.42" cy="28.70" r="1.85" fill="url(#gg2)"/><circle cx="264.14" cy="31.70" r="1.85" fill="url(#gg2)"/><circle cx="264.86" cy="33.92" r="1.85" fill="url(#gg2)"/><circle cx="265.58" cy="34.19" r="1.85" fill="url(#gg2)"/><circle cx="266.30" cy="35.90" r="1.85" fill="url(#gg2)"/><circle cx="267.02" cy="35.75" r="1.85" fill="url(#gg2)"/><circle cx="267.74" cy="39.14" r="1.85" fill="url(#gg2)"/><circle cx="268.46" cy="42.50" r="1.85" fill="url(#gg2)"/><circle cx="269.18" cy="43.89" r="1.85" fill="url(#gg2)"/><circle cx="269.90" cy="45.18" r="1.85" fill="url(#gg2)"/><circle cx="270.62" cy="44.54" r="1.85" fill="url(#gg2)"/><circle cx="271.34" cy="48.81" r="1.85" fill="url(#gg2)"/><circle cx="272.06" cy="50.03" r="1.85" fill="url(#gg2)"/><circle cx="272.78" cy="48.89" r="1.85" fill="url(#gg2)"/><circle cx="273.50" cy="51.96" r="1.85" fill="url(#gg2)"/><circle cx="274.22" cy="51.15" r="1.85" fill="url(#gg2)"/><circle cx="274.94" cy="52.90" r="1.85" fill="url(#gg2)"/><circle cx="275.66" cy="55.06" r="1.85" fill="url(#gg2)"/><circle cx="276.38" cy="56.01" r="1.85" fill="url(#gg2)"/><circle cx="277.10" cy="59.84" r="1.85" fill="url(#gg2)"/><circle cx="277.82" cy="61.83" r="1.85" fill="url(#gg2)"/><circle cx="278.54" cy="61.77" r="1.85" fill="url(#gg2)"/><circle cx="279.26" cy="63.21" r="1.85" fill="url(#gg2)"/><circle cx="279.98" cy="63.94" r="1.85" fill="url(#gg2)"/><circle cx="280.70" cy="65.28" r="1.85" fill="url(#gg2)"/><circle cx="281.42" cy="68.96" r="1.85" fill="url(#gg2)"/><circle cx="282.14" cy="69.96" r="1.85" fill="url(#gg2)"/><circle cx="282.86" cy="69.42" r="1.85" fill="url(#gg2)"/><circle cx="283.58" cy="72.40" r="1.85" fill="url(#gg2)"/><circle cx="284.30" cy="73.62" r="1.85" fill="url(#gg2)"/><circle cx="285.02" cy="76.72" r="1.85" fill="url(#gg2)"/><circle cx="285.74" cy="77.74" r="1.85" fill="url(#gg2)"/><circle cx="286.46" cy="78.75" r="1.85" fill="url(#gg2)"/><circle cx="287.18" cy="79.92" r="1.85" fill="url(#gg2)"/><circle cx="287.90" cy="82.58" r="1.85" fill="url(#gg2)"/><circle cx="288.62" cy="83.88" r="1.85" fill="url(#gg2)"/><circle cx="289.34" cy="82.66" r="1.85" fill="url(#gg2)"/><circle cx="290.06" cy="83.38" r="1.85" fill="url(#gg2)"/><circle cx="290.78" cy="86.42" r="1.85" fill="url(#gg2)"/><circle cx="291.50" cy="84.77" r="1.85" fill="url(#gg2)"/><circle cx="292.22" cy="86.80" r="1.85" fill="url(#gg2)"/><circle cx="292.94" cy="86.64" r="1.85" fill="url(#gg2)"/><circle cx="293.66" cy="88.40" r="1.85" fill="url(#gg2)"/><circle cx="294.38" cy="88.32" r="1.85" fill="url(#gg2)"/><circle cx="295.10" cy="89.88" r="1.85" fill="url(#gg2)"/><circle cx="295.82" cy="92.41" r="1.85" fill="url(#gg2)"/><circle cx="296.54" cy="93.52" r="1.85" fill="url(#gg2)"/><circle cx="297.26" cy="93.80" r="1.85" fill="url(#gg2)"/><circle cx="297.98" cy="93.65" r="1.85" fill="url(#gg2)"/><circle cx="298.70" cy="94.53" r="1.85" fill="url(#gg2)"/><circle cx="299.42" cy="94.32" r="1.85" fill="url(#gg2)"/><circle cx="300.14" cy="94.36" r="1.85" fill="url(#gg2)"/><circle cx="300.86" cy="96.06" r="1.85" fill="url(#gg2)"/><circle cx="301.58" cy="97.87" r="1.85" fill="url(#gg2)"/><circle cx="302.30" cy="96.21" r="1.85" fill="url(#gg2)"/><circle cx="303.02" cy="96.80" r="1.85" fill="url(#gg2)"/><circle cx="303.74" cy="100.23" r="1.85" fill="url(#gg2)"/><circle cx="304.46" cy="99.26" r="1.85" fill="url(#gg2)"/><circle cx="305.18" cy="101.42" r="1.85" fill="url(#gg2)"/><circle cx="305.90" cy="102.23" r="1.85" fill="url(#gg2)"/><circle cx="306.62" cy="103.62" r="1.85" fill="url(#gg2)"/><circle cx="307.34" cy="102.37" r="1.85" fill="url(#gg2)"/><circle cx="308.06" cy="102.88" r="1.85" fill="url(#gg2)"/><circle cx="308.78" cy="105.14" r="1.85" fill="url(#gg2)"/><circle cx="309.50" cy="105.63" r="1.85" fill="url(#gg2)"/><circle cx="310.22" cy="105.86" r="1.85" fill="url(#gg2)"/><circle cx="310.94" cy="107.05" r="1.85" fill="url(#gg2)"/>
</g>
<rect x="198.5" y="3.5" width="129.0" height="111.0" fill="none" stroke="#1a1a1a" stroke-width="1"/>
<line x1="214.5" y1="114.5" x2="214.5" y2="111.5" stroke="#1a1a1a" stroke-width="0.8"/>
<line x1="230.5" y1="114.5" x2="230.5" y2="112.7" stroke="#1a1a1a" stroke-width="0.8"/>
<line x1="246.5" y1="114.5" x2="246.5" y2="111.5" stroke="#1a1a1a" stroke-width="0.8"/>
<line x1="262.5" y1="114.5" x2="262.5" y2="112.7" stroke="#1a1a1a" stroke-width="0.8"/>
<line x1="278.5" y1="114.5" x2="278.5" y2="111.5" stroke="#1a1a1a" stroke-width="0.8"/>
<line x1="294.5" y1="114.5" x2="294.5" y2="112.7" stroke="#1a1a1a" stroke-width="0.8"/>
<line x1="310.5" y1="114.5" x2="310.5" y2="111.5" stroke="#1a1a1a" stroke-width="0.8"/>
<text x="214.5" y="123.1" font-size="7" text-anchor="middle" font-weight="bold" fill="#111" >300</text>
<text x="246.5" y="123.1" font-size="7" text-anchor="middle" font-weight="bold" fill="#111" >400</text>
<text x="278.5" y="123.1" font-size="7" text-anchor="middle" font-weight="bold" fill="#111" >500</text>
<text x="310.5" y="123.1" font-size="7" text-anchor="middle" font-weight="bold" fill="#111" >600</text>
<line x1="198.5" y1="105.07" x2="200.3" y2="105.07" stroke="#1a1a1a" stroke-width="0.8"/>
<line x1="198.5" y1="95.84" x2="201.5" y2="95.84" stroke="#1a1a1a" stroke-width="0.8"/>
<line x1="198.5" y1="86.60999999999999" x2="200.3" y2="86.60999999999999" stroke="#1a1a1a" stroke-width="0.8"/>
<line x1="198.5" y1="77.38" x2="201.5" y2="77.38" stroke="#1a1a1a" stroke-width="0.8"/>
<line x1="198.5" y1="68.15" x2="200.3" y2="68.15" stroke="#1a1a1a" stroke-width="0.8"/>
<line x1="198.5" y1="58.91999999999999" x2="201.5" y2="58.91999999999999" stroke="#1a1a1a" stroke-width="0.8"/>
<line x1="198.5" y1="49.69" x2="200.3" y2="49.69" stroke="#1a1a1a" stroke-width="0.8"/>
<line x1="198.5" y1="40.459999999999994" x2="201.5" y2="40.459999999999994" stroke="#1a1a1a" stroke-width="0.8"/>
<line x1="198.5" y1="31.230000000000004" x2="200.3" y2="31.230000000000004" stroke="#1a1a1a" stroke-width="0.8"/>
<line x1="198.5" y1="22.0" x2="201.5" y2="22.0" stroke="#1a1a1a" stroke-width="0.8"/>
<line x1="198.5" y1="12.769999999999996" x2="200.3" y2="12.769999999999996" stroke="#1a1a1a" stroke-width="0.8"/>
<text x="195.6" y="116.85" font-size="7" text-anchor="end" font-weight="bold" fill="#111" >0.0</text>
<text x="195.6" y="98.39" font-size="7" text-anchor="end" font-weight="bold" fill="#111" >0.2</text>
<text x="195.6" y="79.92999999999999" font-size="7" text-anchor="end" font-weight="bold" fill="#111" >0.4</text>
<text x="195.6" y="61.469999999999985" font-size="7" text-anchor="end" font-weight="bold" fill="#111" >0.6</text>
<text x="195.6" y="43.00999999999999" font-size="7" text-anchor="end" font-weight="bold" fill="#111" >0.8</text>
<text x="195.6" y="24.55" font-size="7" text-anchor="end" font-weight="bold" fill="#111" >1.0</text>
<text x="195.6" y="6.089999999999978" font-size="7" text-anchor="end" font-weight="bold" fill="#111" >1.2</text>
<line x1="327.5" y1="103.225" x2="325.7" y2="103.225" stroke="#1a1a1a" stroke-width="0.8"/>
<line x1="327.5" y1="92.15" x2="324.5" y2="92.15" stroke="#1a1a1a" stroke-width="0.8"/>
<line x1="327.5" y1="81.075" x2="325.7" y2="81.075" stroke="#1a1a1a" stroke-width="0.8"/>
<line x1="327.5" y1="70.0" x2="324.5" y2="70.0" stroke="#1a1a1a" stroke-width="0.8"/>
<line x1="327.5" y1="58.925" x2="325.7" y2="58.925" stroke="#1a1a1a" stroke-width="0.8"/>
<line x1="327.5" y1="47.85000000000001" x2="324.5" y2="47.85000000000001" stroke="#1a1a1a" stroke-width="0.8"/>
<line x1="327.5" y1="36.775000000000006" x2="325.7" y2="36.775000000000006" stroke="#1a1a1a" stroke-width="0.8"/>
<line x1="327.5" y1="25.700000000000003" x2="324.5" y2="25.700000000000003" stroke="#1a1a1a" stroke-width="0.8"/>
<line x1="327.5" y1="14.625" x2="325.7" y2="14.625" stroke="#1a1a1a" stroke-width="0.8"/>
<text x="331" y="116.85" font-size="7" text-anchor="start" font-weight="bold" fill="#111" >0.0</text>
<text x="331" y="94.7" font-size="7" text-anchor="start" font-weight="bold" fill="#111" >0.5</text>
<text x="331" y="72.55" font-size="7" text-anchor="start" font-weight="bold" fill="#111" >1.0</text>
<text x="331" y="50.400000000000006" font-size="7" text-anchor="start" font-weight="bold" fill="#111" >1.5</text>
<text x="331" y="28.250000000000004" font-size="7" text-anchor="start" font-weight="bold" fill="#111" >2.0</text>
<text x="331" y="6.099999999999997" font-size="7" text-anchor="start" font-weight="bold" fill="#111" >2.5</text>
<text x="202" y="12.2" font-size="7.5" text-anchor="start" font-weight="bold" fill="#111" >(b)</text>
<line x1="264" y1="9.8" x2="280.5" y2="9.8" stroke="#7f7fff" stroke-width="0.8"/>
<circle cx="272.2" cy="9.8" r="1.9" fill="url(#gb)"/>
<line x1="264" y1="18" x2="280.5" y2="18" stroke="#22a022" stroke-width="0.8"/>
<circle cx="272.2" cy="18" r="1.9" fill="url(#gg)"/>
<text x="283.3" y="12" font-size="7" text-anchor="start" font-weight="bold" fill="#111" >Thin-film A%</text>
<text x="283.3" y="20.3" font-size="7" text-anchor="start" font-weight="bold" fill="#111" >Thin-film PL</text>
<text x="262.8" y="135.3" font-size="7.1" text-anchor="middle" font-weight="bold" fill="#111" >Wavelength (nm)</text>
<text transform="translate(182.3,58.8) rotate(-90)" font-size="7.1" text-anchor="middle" font-weight="bold" fill="#111" textLength="89.5" lengthAdjust="spacingAndGlyphs">Absorption (1-log(R)) (a.u.)</text>
<text transform="translate(349.3,58.8) rotate(-90)" font-size="7" text-anchor="middle" font-weight="bold" fill="#111" >Intensity (Countsx1000)</text>
<g clip-path="url(#cc)">
<path d="M21.50,159.50 L22.00,159.04 L22.50,158.59 L23.00,158.16 L23.50,157.76 L24.00,157.37 L24.50,156.98 L25.00,156.59 L25.50,156.20 L26.00,155.84 L26.50,155.50 L27.00,155.19 L27.50,154.92 L28.00,154.70 L28.50,154.52 L29.00,154.35 L29.50,154.21 L30.00,154.07 L30.50,153.95 L31.00,153.83 L31.50,153.71 L32.00,153.60 L32.50,153.48 L33.00,153.34 L33.50,153.21 L34.00,153.08 L34.50,152.97 L35.00,152.88 L35.50,152.82 L36.00,152.80 L36.50,152.82 L37.00,152.88 L37.50,152.97 L38.00,153.09 L38.50,153.23 L39.00,153.38 L39.50,153.54 L40.00,153.71 L40.50,153.95 L41.00,154.23 L41.50,154.56 L42.00,154.91 L42.50,155.27 L43.00,155.63 L43.50,155.97 L44.00,156.29 L44.50,156.63 L45.00,156.96 L45.50,157.30 L46.00,157.65 L46.50,158.01 L47.00,158.37 L47.50,158.75 L48.00,159.14 L48.50,159.53 L49.00,159.93 L49.50,160.34 L50.00,160.75 L50.50,161.16 L51.00,161.57 L51.50,161.97 L52.00,162.39 L52.50,162.83 L53.00,163.30 L53.50,163.81 L54.00,164.37 L54.50,164.96 L55.00,165.58 L55.50,166.23 L56.00,166.89 L56.50,167.58 L57.00,168.31 L57.50,169.09 L58.00,169.89 L58.50,170.68 L59.00,171.45 L59.50,172.17 L60.00,172.86 L60.50,173.54 L61.00,174.24 L61.50,175.00 L62.00,175.84 L62.50,176.80 L63.00,177.91 L63.50,179.16 L64.00,180.52 L64.50,181.98 L65.00,183.51 L65.50,185.17 L66.00,186.97 L66.50,188.89 L67.00,190.91 L67.50,193.00 L68.00,195.17 L68.50,197.45 L69.00,199.84 L69.50,202.34 L70.00,204.96 L70.50,207.70 L71.00,210.85 L71.50,214.39 L72.00,217.90 L72.50,220.92 L73.00,223.20 L73.50,225.19 L74.00,226.97 L74.50,228.56 L75.00,229.98 L75.50,231.24 L76.00,232.40 L76.50,233.46 L77.00,234.40 L77.50,235.20 L78.00,235.84 L78.50,236.40 L79.00,236.91 L79.50,237.35 L80.00,237.71 L80.50,238.00 L81.00,238.23 L81.50,238.43 L82.00,238.61 L82.50,238.76 L83.00,238.91 L83.50,239.03 L84.00,239.15 L84.50,239.27 L85.00,239.38 L85.50,239.50 L86.00,239.61 L86.50,239.71 L87.00,239.81 L87.50,239.90 L88.00,239.98 L88.50,240.06 L89.00,240.12 L89.50,240.17 L90.00,240.20 L90.50,240.23 L91.00,240.25 L91.50,240.28 L92.00,240.30 L92.50,240.32 L93.00,240.34 L93.50,240.36 L94.00,240.38 L94.50,240.40 L95.00,240.41 L95.50,240.43 L96.00,240.44 L96.50,240.45 L97.00,240.46 L97.50,240.47 L98.00,240.48 L98.50,240.49 L99.00,240.49 L99.50,240.50 L100.00,240.50 L100.50,240.50 L101.00,240.50 L101.50,240.51 L102.00,240.51 L102.50,240.51 L103.00,240.51 L103.50,240.52 L104.00,240.52 L104.50,240.52 L105.00,240.52 L105.50,240.52 L106.00,240.53 L106.50,240.53 L107.00,240.53 L107.50,240.53 L108.00,240.53 L108.50,240.53 L109.00,240.54 L109.50,240.54 L110.00,240.54 L110.50,240.54 L111.00,240.54 L111.50,240.54 L112.00,240.55 L112.50,240.55 L113.00,240.55 L113.50,240.55 L114.00,240.55 L114.50,240.55 L115.00,240.56 L115.50,240.56 L116.00,240.56 L116.50,240.56 L117.00,240.56 L117.50,240.56 L118.00,240.56 L118.50,240.56 L119.00,240.57 L119.50,240.57 L120.00,240.57 L120.50,240.57 L121.00,240.57 L121.50,240.57 L122.00,240.57 L122.50,240.57 L123.00,240.57 L123.50,240.58 L124.00,240.58 L124.50,240.58 L125.00,240.58 L125.50,240.58 L126.00,240.58 L126.50,240.58 L127.00,240.58 L127.50,240.58 L128.00,240.58 L128.50,240.58 L129.00,240.58 L129.50,240.59 L130.00,240.59 L130.50,240.59 L131.00,240.59 L131.50,240.59 L132.00,240.59 L132.50,240.59 L133.00,240.59 L133.50,240.59 L134.00,240.59 L134.50,240.59 L135.00,240.59 L135.50,240.59 L136.00,240.59 L136.50,240.59 L137.00,240.59 L137.50,240.59 L138.00,240.60 L138.50,240.60 L139.00,240.60 L139.50,240.60 L140.00,240.60 L140.50,240.60 L141.00,240.60 L141.50,240.60 L142.00,240.60 L142.50,240.60 L143.00,240.60 L143.50,240.60 L144.00,240.60 L144.50,240.60 L145.00,240.60 L145.50,240.60 L146.00,240.60 L146.50,240.60 L147.00,240.60 L147.50,240.60 L148.00,240.60 L148.50,240.60 L149.00,240.60 L149.50,240.60 L150.00,240.60 L150.50,240.60 L151.00,240.60" fill="none" stroke="#7f7fff" stroke-width="0.7"/>
<circle cx="23.7" cy="157.6" r="2.1" fill="url(#gb)"/>
<circle cx="28" cy="154.7" r="2.1" fill="url(#gb)"/>
<circle cx="32" cy="153.6" r="2.1" fill="url(#gb)"/>
<circle cx="36" cy="152.8" r="2.1" fill="url(#gb)"/>
<circle cx="39.7" cy="153.6" r="2.1" fill="url(#gb)"/>
<circle cx="43.4" cy="155.9" r="2.1" fill="url(#gb)"/>
<circle cx="46.9" cy="158.3" r="2.1" fill="url(#gb)"/>
<circle cx="50.3" cy="161" r="2.1" fill="url(#gb)"/>
<circle cx="53.1" cy="163.4" r="2.1" fill="url(#gb)"/>
<circle cx="56.3" cy="167.3" r="2.1" fill="url(#gb)"/>
<circle cx="58.9" cy="171.3" r="2.1" fill="url(#gb)"/>
<circle cx="62.3" cy="176.4" r="2.1" fill="url(#gb)"/>
<circle cx="64.9" cy="183.2" r="2.1" fill="url(#gb)"/>
<circle cx="67.5" cy="193" r="2.1" fill="url(#gb)"/>
<circle cx="70.5" cy="207.7" r="2.1" fill="url(#gb)"/>
<circle cx="72.7" cy="221.9" r="2.1" fill="url(#gb)"/>
<circle cx="75.4" cy="231" r="2.1" fill="url(#gb)"/>
<circle cx="77.8" cy="235.6" r="2.1" fill="url(#gb)"/>
<circle cx="80.5" cy="238" r="2.1" fill="url(#gb)"/>
<circle cx="84.2" cy="239.2" r="2.1" fill="url(#gb)"/>
<circle cx="86.00" cy="239.61" r="2.45" fill="url(#gb)"/><circle cx="87.00" cy="239.81" r="2.45" fill="url(#gb)"/><circle cx="88.00" cy="239.98" r="2.45" fill="url(#gb)"/><circle cx="89.00" cy="240.12" r="2.45" fill="url(#gb)"/><circle cx="90.00" cy="240.20" r="2.45" fill="url(#gb)"/><circle cx="91.00" cy="240.25" r="2.45" fill="url(#gb)"/><circle cx="92.00" cy="240.30" r="2.45" fill="url(#gb)"/><circle cx="93.00" cy="240.34" r="2.45" fill="url(#gb)"/><circle cx="94.00" cy="240.38" r="2.45" fill="url(#gb)"/><circle cx="95.00" cy="240.41" r="2.45" fill="url(#gb)"/><circle cx="96.00" cy="240.44" r="2.45" fill="url(#gb)"/><circle cx="97.00" cy="240.46" r="2.45" fill="url(#gb)"/><circle cx="98.00" cy="240.48" r="2.45" fill="url(#gb)"/><circle cx="99.00" cy="240.49" r="2.45" fill="url(#gb)"/><circle cx="100.00" cy="240.50" r="2.45" fill="url(#gb)"/><circle cx="101.00" cy="240.50" r="2.45" fill="url(#gb)"/><circle cx="102.00" cy="240.51" r="2.45" fill="url(#gb)"/><circle cx="103.00" cy="240.51" r="2.45" fill="url(#gb)"/><circle cx="104.00" cy="240.52" r="2.45" fill="url(#gb)"/><circle cx="105.00" cy="240.52" r="2.45" fill="url(#gb)"/><circle cx="106.00" cy="240.53" r="2.45" fill="url(#gb)"/><circle cx="107.00" cy="240.53" r="2.45" fill="url(#gb)"/><circle cx="108.00" cy="240.53" r="2.45" fill="url(#gb)"/><circle cx="109.00" cy="240.54" r="2.45" fill="url(#gb)"/><circle cx="110.00" cy="240.54" r="2.45" fill="url(#gb)"/><circle cx="111.00" cy="240.54" r="2.45" fill="url(#gb)"/><circle cx="112.00" cy="240.55" r="2.45" fill="url(#gb)"/><circle cx="113.00" cy="240.55" r="2.45" fill="url(#gb)"/><circle cx="114.00" cy="240.55" r="2.45" fill="url(#gb)"/><circle cx="115.00" cy="240.56" r="2.45" fill="url(#gb)"/><circle cx="116.00" cy="240.56" r="2.45" fill="url(#gb)"/><circle cx="117.00" cy="240.56" r="2.45" fill="url(#gb)"/><circle cx="118.00" cy="240.56" r="2.45" fill="url(#gb)"/><circle cx="119.00" cy="240.57" r="2.45" fill="url(#gb)"/><circle cx="120.00" cy="240.57" r="2.45" fill="url(#gb)"/><circle cx="121.00" cy="240.57" r="2.45" fill="url(#gb)"/><circle cx="122.00" cy="240.57" r="2.45" fill="url(#gb)"/><circle cx="123.00" cy="240.57" r="2.45" fill="url(#gb)"/><circle cx="124.00" cy="240.58" r="2.45" fill="url(#gb)"/><circle cx="125.00" cy="240.58" r="2.45" fill="url(#gb)"/><circle cx="126.00" cy="240.58" r="2.45" fill="url(#gb)"/><circle cx="127.00" cy="240.58" r="2.45" fill="url(#gb)"/><circle cx="128.00" cy="240.58" r="2.45" fill="url(#gb)"/><circle cx="129.00" cy="240.58" r="2.45" fill="url(#gb)"/><circle cx="130.00" cy="240.59" r="2.45" fill="url(#gb)"/><circle cx="131.00" cy="240.59" r="2.45" fill="url(#gb)"/><circle cx="132.00" cy="240.59" r="2.45" fill="url(#gb)"/><circle cx="133.00" cy="240.59" r="2.45" fill="url(#gb)"/><circle cx="134.00" cy="240.59" r="2.45" fill="url(#gb)"/><circle cx="135.00" cy="240.59" r="2.45" fill="url(#gb)"/><circle cx="136.00" cy="240.59" r="2.45" fill="url(#gb)"/><circle cx="137.00" cy="240.59" r="2.45" fill="url(#gb)"/><circle cx="138.00" cy="240.60" r="2.45" fill="url(#gb)"/><circle cx="139.00" cy="240.60" r="2.45" fill="url(#gb)"/><circle cx="140.00" cy="240.60" r="2.45" fill="url(#gb)"/><circle cx="141.00" cy="240.60" r="2.45" fill="url(#gb)"/><circle cx="142.00" cy="240.60" r="2.45" fill="url(#gb)"/><circle cx="143.00" cy="240.60" r="2.45" fill="url(#gb)"/><circle cx="144.00" cy="240.60" r="2.45" fill="url(#gb)"/><circle cx="145.00" cy="240.60" r="2.45" fill="url(#gb)"/><circle cx="146.00" cy="240.60" r="2.45" fill="url(#gb)"/><circle cx="147.00" cy="240.60" r="2.45" fill="url(#gb)"/><circle cx="148.00" cy="240.60" r="2.45" fill="url(#gb)"/><circle cx="149.00" cy="240.60" r="2.45" fill="url(#gb)"/><circle cx="150.00" cy="240.60" r="2.45" fill="url(#gb)"/><circle cx="151.00" cy="240.60" r="2.45" fill="url(#gb)"/>
<line x1="21.5" y1="240.5" x2="151" y2="240.5" stroke="#ff2020" stroke-opacity="0.8" stroke-width="1.2" stroke-dasharray="3.4 2.6"/>
<line x1="58.2" y1="141" x2="78.9" y2="252" stroke="#ff2020" stroke-opacity="0.8" stroke-width="1.2" stroke-dasharray="3.4 2.6"/>
</g>
<rect x="21.5" y="141" width="129.0" height="111" fill="none" stroke="#1a1a1a" stroke-width="1"/>
<line x1="32.0" y1="252" x2="32.0" y2="250.2" stroke="#1a1a1a" stroke-width="0.8"/>
<line x1="43.0" y1="252" x2="43.0" y2="249" stroke="#1a1a1a" stroke-width="0.8"/>
<line x1="54.0" y1="252" x2="54.0" y2="250.2" stroke="#1a1a1a" stroke-width="0.8"/>
<line x1="64.5" y1="252" x2="64.5" y2="249" stroke="#1a1a1a" stroke-width="0.8"/>
<line x1="75.0" y1="252" x2="75.0" y2="250.2" stroke="#1a1a1a" stroke-width="0.8"/>
<line x1="86.0" y1="252" x2="86.0" y2="249" stroke="#1a1a1a" stroke-width="0.8"/>
<line x1="97.0" y1="252" x2="97.0" y2="250.2" stroke="#1a1a1a" stroke-width="0.8"/>
<line x1="107.5" y1="252" x2="107.5" y2="249" stroke="#1a1a1a" stroke-width="0.8"/>
<line x1="118.0" y1="252" x2="118.0" y2="250.2" stroke="#1a1a1a" stroke-width="0.8"/>
<line x1="129.0" y1="252" x2="129.0" y2="249" stroke="#1a1a1a" stroke-width="0.8"/>
<line x1="140.0" y1="252" x2="140.0" y2="250.2" stroke="#1a1a1a" stroke-width="0.8"/>
<text x="21.5" y="260.9" font-size="7" text-anchor="middle" font-weight="bold" fill="#111" >5.0</text>
<text x="43.0" y="260.9" font-size="7" text-anchor="middle" font-weight="bold" fill="#111" >4.5</text>
<text x="64.5" y="260.9" font-size="7" text-anchor="middle" font-weight="bold" fill="#111" >4.0</text>
<text x="86.0" y="260.9" font-size="7" text-anchor="middle" font-weight="bold" fill="#111" >3.5</text>
<text x="107.5" y="260.9" font-size="7" text-anchor="middle" font-weight="bold" fill="#111" >3.0</text>
<text x="129.0" y="260.9" font-size="7" text-anchor="middle" font-weight="bold" fill="#111" >2.5</text>
<text x="150.5" y="260.9" font-size="7" text-anchor="middle" font-weight="bold" fill="#111" >2.0</text>
<line x1="21.5" y1="240.8" x2="24.5" y2="240.8" stroke="#1a1a1a" stroke-width="0.8"/>
<line x1="21.5" y1="229.6125" x2="23.3" y2="229.6125" stroke="#1a1a1a" stroke-width="0.8"/>
<line x1="21.5" y1="218.425" x2="24.5" y2="218.425" stroke="#1a1a1a" stroke-width="0.8"/>
<line x1="21.5" y1="207.2375" x2="23.3" y2="207.2375" stroke="#1a1a1a" stroke-width="0.8"/>
<line x1="21.5" y1="196.05" x2="24.5" y2="196.05" stroke="#1a1a1a" stroke-width="0.8"/>
<line x1="21.5" y1="184.8625" x2="23.3" y2="184.8625" stroke="#1a1a1a" stroke-width="0.8"/>
<line x1="21.5" y1="173.675" x2="24.5" y2="173.675" stroke="#1a1a1a" stroke-width="0.8"/>
<line x1="21.5" y1="162.4875" x2="23.3" y2="162.4875" stroke="#1a1a1a" stroke-width="0.8"/>
<line x1="21.5" y1="151.3" x2="24.5" y2="151.3" stroke="#1a1a1a" stroke-width="0.8"/>
<text x="18.2" y="243.35000000000002" font-size="7" text-anchor="end" font-weight="bold" fill="#111" >0</text>
<text x="18.2" y="220.97500000000002" font-size="7" text-anchor="end" font-weight="bold" fill="#111" >5</text>
<text x="18.2" y="198.60000000000002" font-size="7" text-anchor="end" font-weight="bold" fill="#111" >10</text>
<text x="18.2" y="176.22500000000002" font-size="7" text-anchor="end" font-weight="bold" fill="#111" >15</text>
<text x="18.2" y="153.85000000000002" font-size="7" text-anchor="end" font-weight="bold" fill="#111" >20</text>
<text x="24" y="148.6" font-size="7.5" text-anchor="start" font-weight="bold" fill="#111" >(c)</text>
<text x="48" y="239.8" font-size="7" text-anchor="start" font-weight="bold" fill="#111" >3.71 eV</text>
<text x="86.2" y="272.3" font-size="7.1" text-anchor="middle" font-weight="bold" fill="#111" >Energy (eV)</text>
<text transform="translate(8.3,192.5) rotate(-90)" font-size="7" text-anchor="middle" font-weight="bold" fill="#111" textLength="57" lengthAdjust="spacingAndGlyphs">(&#945;h&#957;)<tspan font-size="4.8" dy="-2.7">2</tspan><tspan dy="2.7"> (cm</tspan><tspan font-size="4.8" dy="-2.7">-2</tspan><tspan dy="2.7"> eV</tspan><tspan font-size="4.8" dy="-2.7">2</tspan><tspan dy="2.7">)</tspan></text>
<rect x="225.8" y="149.8" width="32.2" height="21.4" fill="#c8c8c8"/>
<rect x="225.8" y="211.6" width="32.2" height="20.8" fill="#c8c8c8"/>
<line x1="225.2" y1="171.3" x2="258.6" y2="171.3" stroke="#222" stroke-width="1"/>
<line x1="225.2" y1="211.4" x2="258.6" y2="211.4" stroke="#222" stroke-width="1"/>
<line x1="241.6" y1="174" x2="241.6" y2="208.5" stroke="#222" stroke-width="1"/>
<path d="M241.6,171.8 L240.2,175.5 L243,175.5 Z" fill="#222"/>
<path d="M241.6,210.9 L240.2,207.2 L243,207.2 Z" fill="#222"/>
<line x1="219.3" y1="146.3" x2="219.3" y2="231.5" stroke="#111" stroke-width="0.85"/>
<line x1="219.3" y1="146.30" x2="217.0" y2="146.30" stroke="#111" stroke-width="0.6"/>
<line x1="219.3" y1="147.36" x2="218.20000000000002" y2="147.36" stroke="#111" stroke-width="0.6"/>
<line x1="219.3" y1="148.42" x2="218.20000000000002" y2="148.42" stroke="#111" stroke-width="0.6"/>
<line x1="219.3" y1="149.48" x2="218.20000000000002" y2="149.48" stroke="#111" stroke-width="0.6"/>
<line x1="219.3" y1="150.54" x2="218.20000000000002" y2="150.54" stroke="#111" stroke-width="0.6"/>
<line x1="219.3" y1="151.59" x2="218.20000000000002" y2="151.59" stroke="#111" stroke-width="0.6"/>
<line x1="219.3" y1="152.65" x2="218.20000000000002" y2="152.65" stroke="#111" stroke-width="0.6"/>
<line x1="219.3" y1="153.71" x2="218.20000000000002" y2="153.71" stroke="#111" stroke-width="0.6"/>
<line x1="219.3" y1="154.77" x2="218.20000000000002" y2="154.77" stroke="#111" stroke-width="0.6"/>
<line x1="219.3" y1="155.83" x2="218.20000000000002" y2="155.83" stroke="#111" stroke-width="0.6"/>
<line x1="219.3" y1="156.89" x2="217.0" y2="156.89" stroke="#111" stroke-width="0.6"/>
<line x1="219.3" y1="157.95" x2="218.20000000000002" y2="157.95" stroke="#111" stroke-width="0.6"/>
<line x1="219.3" y1="159.01" x2="218.20000000000002" y2="159.01" stroke="#111" stroke-width="0.6"/>
<line x1="219.3" y1="160.07" x2="218.20000000000002" y2="160.07" stroke="#111" stroke-width="0.6"/>
<line x1="219.3" y1="161.13" x2="218.20000000000002" y2="161.13" stroke="#111" stroke-width="0.6"/>
<line x1="219.3" y1="162.19" x2="218.20000000000002" y2="162.19" stroke="#111" stroke-width="0.6"/>
<line x1="219.3" y1="163.24" x2="218.20000000000002" y2="163.24" stroke="#111" stroke-width="0.6"/>
<line x1="219.3" y1="164.30" x2="218.20000000000002" y2="164.30" stroke="#111" stroke-width="0.6"/>
<line x1="219.3" y1="165.36" x2="218.20000000000002" y2="165.36" stroke="#111" stroke-width="0.6"/>
<line x1="219.3" y1="166.42" x2="218.20000000000002" y2="166.42" stroke="#111" stroke-width="0.6"/>
<line x1="219.3" y1="167.48" x2="217.0" y2="167.48" stroke="#111" stroke-width="0.6"/>
<line x1="219.3" y1="168.54" x2="218.20000000000002" y2="168.54" stroke="#111" stroke-width="0.6"/>
<line x1="219.3" y1="169.60" x2="218.20000000000002" y2="169.60" stroke="#111" stroke-width="0.6"/>
<line x1="219.3" y1="170.66" x2="218.20000000000002" y2="170.66" stroke="#111" stroke-width="0.6"/>
<line x1="219.3" y1="171.72" x2="218.20000000000002" y2="171.72" stroke="#111" stroke-width="0.6"/>
<line x1="219.3" y1="172.78" x2="218.20000000000002" y2="172.78" stroke="#111" stroke-width="0.6"/>
<line x1="219.3" y1="173.83" x2="218.20000000000002" y2="173.83" stroke="#111" stroke-width="0.6"/>
<line x1="219.3" y1="174.89" x2="218.20000000000002" y2="174.89" stroke="#111" stroke-width="0.6"/>
<line x1="219.3" y1="175.95" x2="218.20000000000002" y2="175.95" stroke="#111" stroke-width="0.6"/>
<line x1="219.3" y1="177.01" x2="218.20000000000002" y2="177.01" stroke="#111" stroke-width="0.6"/>
<line x1="219.3" y1="178.07" x2="217.0" y2="178.07" stroke="#111" stroke-width="0.6"/>
<line x1="219.3" y1="179.13" x2="218.20000000000002" y2="179.13" stroke="#111" stroke-width="0.6"/>
<line x1="219.3" y1="180.19" x2="218.20000000000002" y2="180.19" stroke="#111" stroke-width="0.6"/>
<line x1="219.3" y1="181.25" x2="218.20000000000002" y2="181.25" stroke="#111" stroke-width="0.6"/>
<line x1="219.3" y1="182.31" x2="218.20000000000002" y2="182.31" stroke="#111" stroke-width="0.6"/>
<line x1="219.3" y1="183.37" x2="218.20000000000002" y2="183.37" stroke="#111" stroke-width="0.6"/>
<line x1="219.3" y1="184.42" x2="218.20000000000002" y2="184.42" stroke="#111" stroke-width="0.6"/>
<line x1="219.3" y1="185.48" x2="218.20000000000002" y2="185.48" stroke="#111" stroke-width="0.6"/>
<line x1="219.3" y1="186.54" x2="218.20000000000002" y2="186.54" stroke="#111" stroke-width="0.6"/>
<line x1="219.3" y1="187.60" x2="218.20000000000002" y2="187.60" stroke="#111" stroke-width="0.6"/>
<line x1="219.3" y1="188.66" x2="217.0" y2="188.66" stroke="#111" stroke-width="0.6"/>
<line x1="219.3" y1="189.72" x2="218.20000000000002" y2="189.72" stroke="#111" stroke-width="0.6"/>
<line x1="219.3" y1="190.78" x2="218.20000000000002" y2="190.78" stroke="#111" stroke-width="0.6"/>
<line x1="219.3" y1="191.84" x2="218.20000000000002" y2="191.84" stroke="#111" stroke-width="0.6"/>
<line x1="219.3" y1="192.90" x2="218.20000000000002" y2="192.90" stroke="#111" stroke-width="0.6"/>
<line x1="219.3" y1="193.96" x2="218.20000000000002" y2="193.96" stroke="#111" stroke-width="0.6"/>
<line x1="219.3" y1="195.01" x2="218.20000000000002" y2="195.01" stroke="#111" stroke-width="0.6"/>
<line x1="219.3" y1="196.07" x2="218.20000000000002" y2="196.07" stroke="#111" stroke-width="0.6"/>
<line x1="219.3" y1="197.13" x2="218.20000000000002" y2="197.13" stroke="#111" stroke-width="0.6"/>
<line x1="219.3" y1="198.19" x2="218.20000000000002" y2="198.19" stroke="#111" stroke-width="0.6"/>
<line x1="219.3" y1="199.25" x2="217.0" y2="199.25" stroke="#111" stroke-width="0.6"/>
<line x1="219.3" y1="200.31" x2="218.20000000000002" y2="200.31" stroke="#111" stroke-width="0.6"/>
<line x1="219.3" y1="201.37" x2="218.20000000000002" y2="201.37" stroke="#111" stroke-width="0.6"/>
<line x1="219.3" y1="202.43" x2="218.20000000000002" y2="202.43" stroke="#111" stroke-width="0.6"/>
<line x1="219.3" y1="203.49" x2="218.20000000000002" y2="203.49" stroke="#111" stroke-width="0.6"/>
<line x1="219.3" y1="204.55" x2="218.20000000000002" y2="204.55" stroke="#111" stroke-width="0.6"/>
<line x1="219.3" y1="205.60" x2="218.20000000000002" y2="205.60" stroke="#111" stroke-width="0.6"/>
<line x1="219.3" y1="206.66" x2="218.20000000000002" y2="206.66" stroke="#111" stroke-width="0.6"/>
<line x1="219.3" y1="207.72" x2="218.20000000000002" y2="207.72" stroke="#111" stroke-width="0.6"/>
<line x1="219.3" y1="208.78" x2="218.20000000000002" y2="208.78" stroke="#111" stroke-width="0.6"/>
<line x1="219.3" y1="209.84" x2="217.0" y2="209.84" stroke="#111" stroke-width="0.6"/>
<line x1="219.3" y1="210.90" x2="218.20000000000002" y2="210.90" stroke="#111" stroke-width="0.6"/>
<line x1="219.3" y1="211.96" x2="218.20000000000002" y2="211.96" stroke="#111" stroke-width="0.6"/>
<line x1="219.3" y1="213.02" x2="218.20000000000002" y2="213.02" stroke="#111" stroke-width="0.6"/>
<line x1="219.3" y1="214.08" x2="218.20000000000002" y2="214.08" stroke="#111" stroke-width="0.6"/>
<line x1="219.3" y1="215.13" x2="218.20000000000002" y2="215.13" stroke="#111" stroke-width="0.6"/>
<line x1="219.3" y1="216.19" x2="218.20000000000002" y2="216.19" stroke="#111" stroke-width="0.6"/>
<line x1="219.3" y1="217.25" x2="218.20000000000002" y2="217.25" stroke="#111" stroke-width="0.6"/>
<line x1="219.3" y1="218.31" x2="218.20000000000002" y2="218.31" stroke="#111" stroke-width="0.6"/>
<line x1="219.3" y1="219.37" x2="218.20000000000002" y2="219.37" stroke="#111" stroke-width="0.6"/>
<line x1="219.3" y1="220.43" x2="217.0" y2="220.43" stroke="#111" stroke-width="0.6"/>
<line x1="219.3" y1="221.49" x2="218.20000000000002" y2="221.49" stroke="#111" stroke-width="0.6"/>
<line x1="219.3" y1="222.55" x2="218.20000000000002" y2="222.55" stroke="#111" stroke-width="0.6"/>
<line x1="219.3" y1="223.61" x2="218.20000000000002" y2="223.61" stroke="#111" stroke-width="0.6"/>
<line x1="219.3" y1="224.67" x2="218.20000000000002" y2="224.67" stroke="#111" stroke-width="0.6"/>
<line x1="219.3" y1="225.73" x2="218.20000000000002" y2="225.73" stroke="#111" stroke-width="0.6"/>
<line x1="219.3" y1="226.78" x2="218.20000000000002" y2="226.78" stroke="#111" stroke-width="0.6"/>
<line x1="219.3" y1="227.84" x2="218.20000000000002" y2="227.84" stroke="#111" stroke-width="0.6"/>
<line x1="219.3" y1="228.90" x2="218.20000000000002" y2="228.90" stroke="#111" stroke-width="0.6"/>
<line x1="219.3" y1="229.96" x2="218.20000000000002" y2="229.96" stroke="#111" stroke-width="0.6"/>
<line x1="219.3" y1="231.02" x2="217.0" y2="231.02" stroke="#111" stroke-width="0.6"/>
<text x="216.6" y="147.9" font-size="4.4" text-anchor="end" font-weight="bold" fill="#333" >0</text>
<text x="216.6" y="158.49" font-size="4.4" text-anchor="end" font-weight="bold" fill="#333" >-1</text>
<text x="216.6" y="169.08" font-size="4.4" text-anchor="end" font-weight="bold" fill="#333" >-2</text>
<text x="216.6" y="179.67000000000002" font-size="4.4" text-anchor="end" font-weight="bold" fill="#333" >-3</text>
<text x="216.6" y="190.26000000000002" font-size="4.4" text-anchor="end" font-weight="bold" fill="#333" >-4</text>
<text x="216.6" y="200.85" font-size="4.4" text-anchor="end" font-weight="bold" fill="#333" >-5</text>
<text x="216.6" y="211.44" font-size="4.4" text-anchor="end" font-weight="bold" fill="#333" >-6</text>
<text x="216.6" y="222.03" font-size="4.4" text-anchor="end" font-weight="bold" fill="#333" >-7</text>
<text x="216.6" y="232.62" font-size="4.4" text-anchor="end" font-weight="bold" fill="#333" >-8</text>
<text transform="translate(210.4,189.2) rotate(-90)" font-size="5.2" text-anchor="middle" font-weight="bold" fill="#111" textLength="26" lengthAdjust="spacingAndGlyphs">Energy (eV)</text>
<text x="260.3" y="173.6" font-size="5.8" text-anchor="start" font-weight="bold" fill="#111" stroke="#111" stroke-width="0.08">1S<tspan font-size="3.8" dy="1.3">e</tspan><tspan dy="-1.3">= -2.19 eV</tspan></text>
<text x="242.3" y="192.7" font-size="5.9" text-anchor="start" font-weight="bold" fill="#111" stroke="#111" stroke-width="0.08">E<tspan font-size="3.8" dy="1.3">g</tspan><tspan dy="-1.3">=3.71 eV</tspan></text>
<text x="260.3" y="213.4" font-size="5.8" text-anchor="start" font-weight="bold" fill="#111" stroke="#111" stroke-width="0.08">1S<tspan font-size="3.8" dy="1.3">h</tspan><tspan dy="-1.3">= -5.9 eV</tspan></text>
<g clip-path="url(#cd)">
<circle cx="210.1" cy="242" r="2.3" fill="url(#gk)"/>
<circle cx="215.9" cy="236" r="2.3" fill="url(#gk)"/>
<circle cx="221.7" cy="242.3" r="2.3" fill="url(#gk)"/>
<circle cx="227.3" cy="242.7" r="2.3" fill="url(#gk)"/>
<circle cx="233.2" cy="238.2" r="2.3" fill="url(#gk)"/>
<circle cx="239" cy="244" r="2.3" fill="url(#gk)"/>
<circle cx="245" cy="241" r="2.3" fill="url(#gk)"/>
<circle cx="251" cy="241.2" r="2.3" fill="url(#gk)"/>
<circle cx="257" cy="241.2" r="2.3" fill="url(#gk)"/>
<circle cx="263" cy="241.2" r="2.3" fill="url(#gk)"/>
<circle cx="268.9" cy="239.3" r="2.3" fill="url(#gk)"/>
<circle cx="274.5" cy="236.7" r="2.3" fill="url(#gk)"/>
<circle cx="280.5" cy="238.4" r="2.3" fill="url(#gk)"/>
<circle cx="286.2" cy="229.6" r="2.3" fill="url(#gk)"/>
<circle cx="292.3" cy="229.6" r="2.3" fill="url(#gk)"/>
<circle cx="297.8" cy="222.1" r="2.3" fill="url(#gk)"/>
<circle cx="303.7" cy="206.5" r="2.3" fill="url(#gk)"/>
<circle cx="309.7" cy="200.1" r="2.3" fill="url(#gk)"/>
<circle cx="315.7" cy="183.4" r="2.3" fill="url(#gk)"/>
<circle cx="321.3" cy="166" r="2.3" fill="url(#gk)"/>
<circle cx="326.6" cy="156.4" r="2.3" fill="url(#gk)"/>
<line x1="198.5" y1="240.5" x2="297" y2="242.6" stroke="#ff2020" stroke-opacity="0.8" stroke-width="1.2" stroke-dasharray="3.4 2.6"/>
<line x1="285.8" y1="251.5" x2="329" y2="151.6" stroke="#ff2020" stroke-opacity="0.8" stroke-width="1.2" stroke-dasharray="3.4 2.6"/>
</g>
<rect x="198.5" y="141" width="129.0" height="111" fill="none" stroke="#1a1a1a" stroke-width="1"/>
<line x1="204.0" y1="252" x2="204.0" y2="249" stroke="#1a1a1a" stroke-width="0.8"/>
<line x1="210.0" y1="252" x2="210.0" y2="250.2" stroke="#1a1a1a" stroke-width="0.8"/>
<line x1="216.0" y1="252" x2="216.0" y2="250.2" stroke="#1a1a1a" stroke-width="0.8"/>
<line x1="221.5" y1="252" x2="221.5" y2="250.2" stroke="#1a1a1a" stroke-width="0.8"/>
<line x1="227.5" y1="252" x2="227.5" y2="250.2" stroke="#1a1a1a" stroke-width="0.8"/>
<line x1="233.5" y1="252" x2="233.5" y2="249" stroke="#1a1a1a" stroke-width="0.8"/>
<line x1="239.0" y1="252" x2="239.0" y2="250.2" stroke="#1a1a1a" stroke-width="0.8"/>
<line x1="245.0" y1="252" x2="245.0" y2="250.2" stroke="#1a1a1a" stroke-width="0.8"/>
<line x1="251.0" y1="252" x2="251.0" y2="250.2" stroke="#1a1a1a" stroke-width="0.8"/>
<line x1="257.0" y1="252" x2="257.0" y2="250.2" stroke="#1a1a1a" stroke-width="0.8"/>
<line x1="262.5" y1="252" x2="262.5" y2="249" stroke="#1a1a1a" stroke-width="0.8"/>
<line x1="268.5" y1="252" x2="268.5" y2="250.2" stroke="#1a1a1a" stroke-width="0.8"/>
<line x1="274.5" y1="252" x2="274.5" y2="250.2" stroke="#1a1a1a" stroke-width="0.8"/>
<line x1="280.0" y1="252" x2="280.0" y2="250.2" stroke="#1a1a1a" stroke-width="0.8"/>
<line x1="286.0" y1="252" x2="286.0" y2="250.2" stroke="#1a1a1a" stroke-width="0.8"/>
<line x1="292.0" y1="252" x2="292.0" y2="249" stroke="#1a1a1a" stroke-width="0.8"/>
<line x1="298.0" y1="252" x2="298.0" y2="250.2" stroke="#1a1a1a" stroke-width="0.8"/>
<line x1="303.5" y1="252" x2="303.5" y2="250.2" stroke="#1a1a1a" stroke-width="0.8"/>
<line x1="309.5" y1="252" x2="309.5" y2="250.2" stroke="#1a1a1a" stroke-width="0.8"/>
<line x1="315.5" y1="252" x2="315.5" y2="250.2" stroke="#1a1a1a" stroke-width="0.8"/>
<line x1="321.5" y1="252" x2="321.5" y2="249" stroke="#1a1a1a" stroke-width="0.8"/>
<text x="204.05999999999997" y="260.9" font-size="7" text-anchor="middle" font-weight="bold" fill="#111" >4.5</text>
<text x="233.35999999999996" y="260.9" font-size="7" text-anchor="middle" font-weight="bold" fill="#111" >5.0</text>
<text x="262.65999999999997" y="260.9" font-size="7" text-anchor="middle" font-weight="bold" fill="#111" >5.5</text>
<text x="291.96" y="260.9" font-size="7" text-anchor="middle" font-weight="bold" fill="#111" >6.0</text>
<text x="321.26" y="260.9" font-size="7" text-anchor="middle" font-weight="bold" fill="#111" >6.5</text>
<line x1="198.5" y1="233.3325" x2="200.3" y2="233.3325" stroke="#1a1a1a" stroke-width="0.8"/>
<line x1="198.5" y1="214.865" x2="201.5" y2="214.865" stroke="#1a1a1a" stroke-width="0.8"/>
<line x1="198.5" y1="196.3975" x2="200.3" y2="196.3975" stroke="#1a1a1a" stroke-width="0.8"/>
<line x1="198.5" y1="177.93" x2="201.5" y2="177.93" stroke="#1a1a1a" stroke-width="0.8"/>
<line x1="198.5" y1="159.46250000000003" x2="200.3" y2="159.46250000000003" stroke="#1a1a1a" stroke-width="0.8"/>
<text x="195.6" y="254.35000000000002" font-size="7" text-anchor="end" font-weight="bold" fill="#111" >0</text>
<text x="195.6" y="217.41500000000002" font-size="7" text-anchor="end" font-weight="bold" fill="#111" >5</text>
<text x="195.6" y="180.48000000000002" font-size="7" text-anchor="end" font-weight="bold" fill="#111" >10</text>
<text x="195.6" y="143.54500000000002" font-size="7" text-anchor="end" font-weight="bold" fill="#111" >15</text>
<text x="199.8" y="148.4" font-size="7" text-anchor="start" font-weight="bold" fill="#111" stroke="#111" stroke-width="0.12">(d)</text>
<text x="293.3" y="241.6" font-size="7" text-anchor="start" font-weight="bold" fill="#111" >E<tspan font-size="3.6" dy="2">gp</tspan><tspan dy="-2">=5.9 eV</tspan></text>
<text x="263" y="272.3" font-size="7.1" text-anchor="middle" font-weight="bold" fill="#111" >Energy (eV)</text>
<text transform="translate(184.5,195.6) rotate(-90)" font-size="6.4" text-anchor="middle" font-weight="bold" fill="#111" textLength="48" lengthAdjust="spacingAndGlyphs">Yield<tspan font-size="4.7" dy="-2.7">1/2</tspan><tspan dy="2.7">(cps</tspan><tspan font-size="4.7" dy="-2.7">1/2</tspan><tspan dy="2.7">)</tspan></text>
</svg></body></html>
